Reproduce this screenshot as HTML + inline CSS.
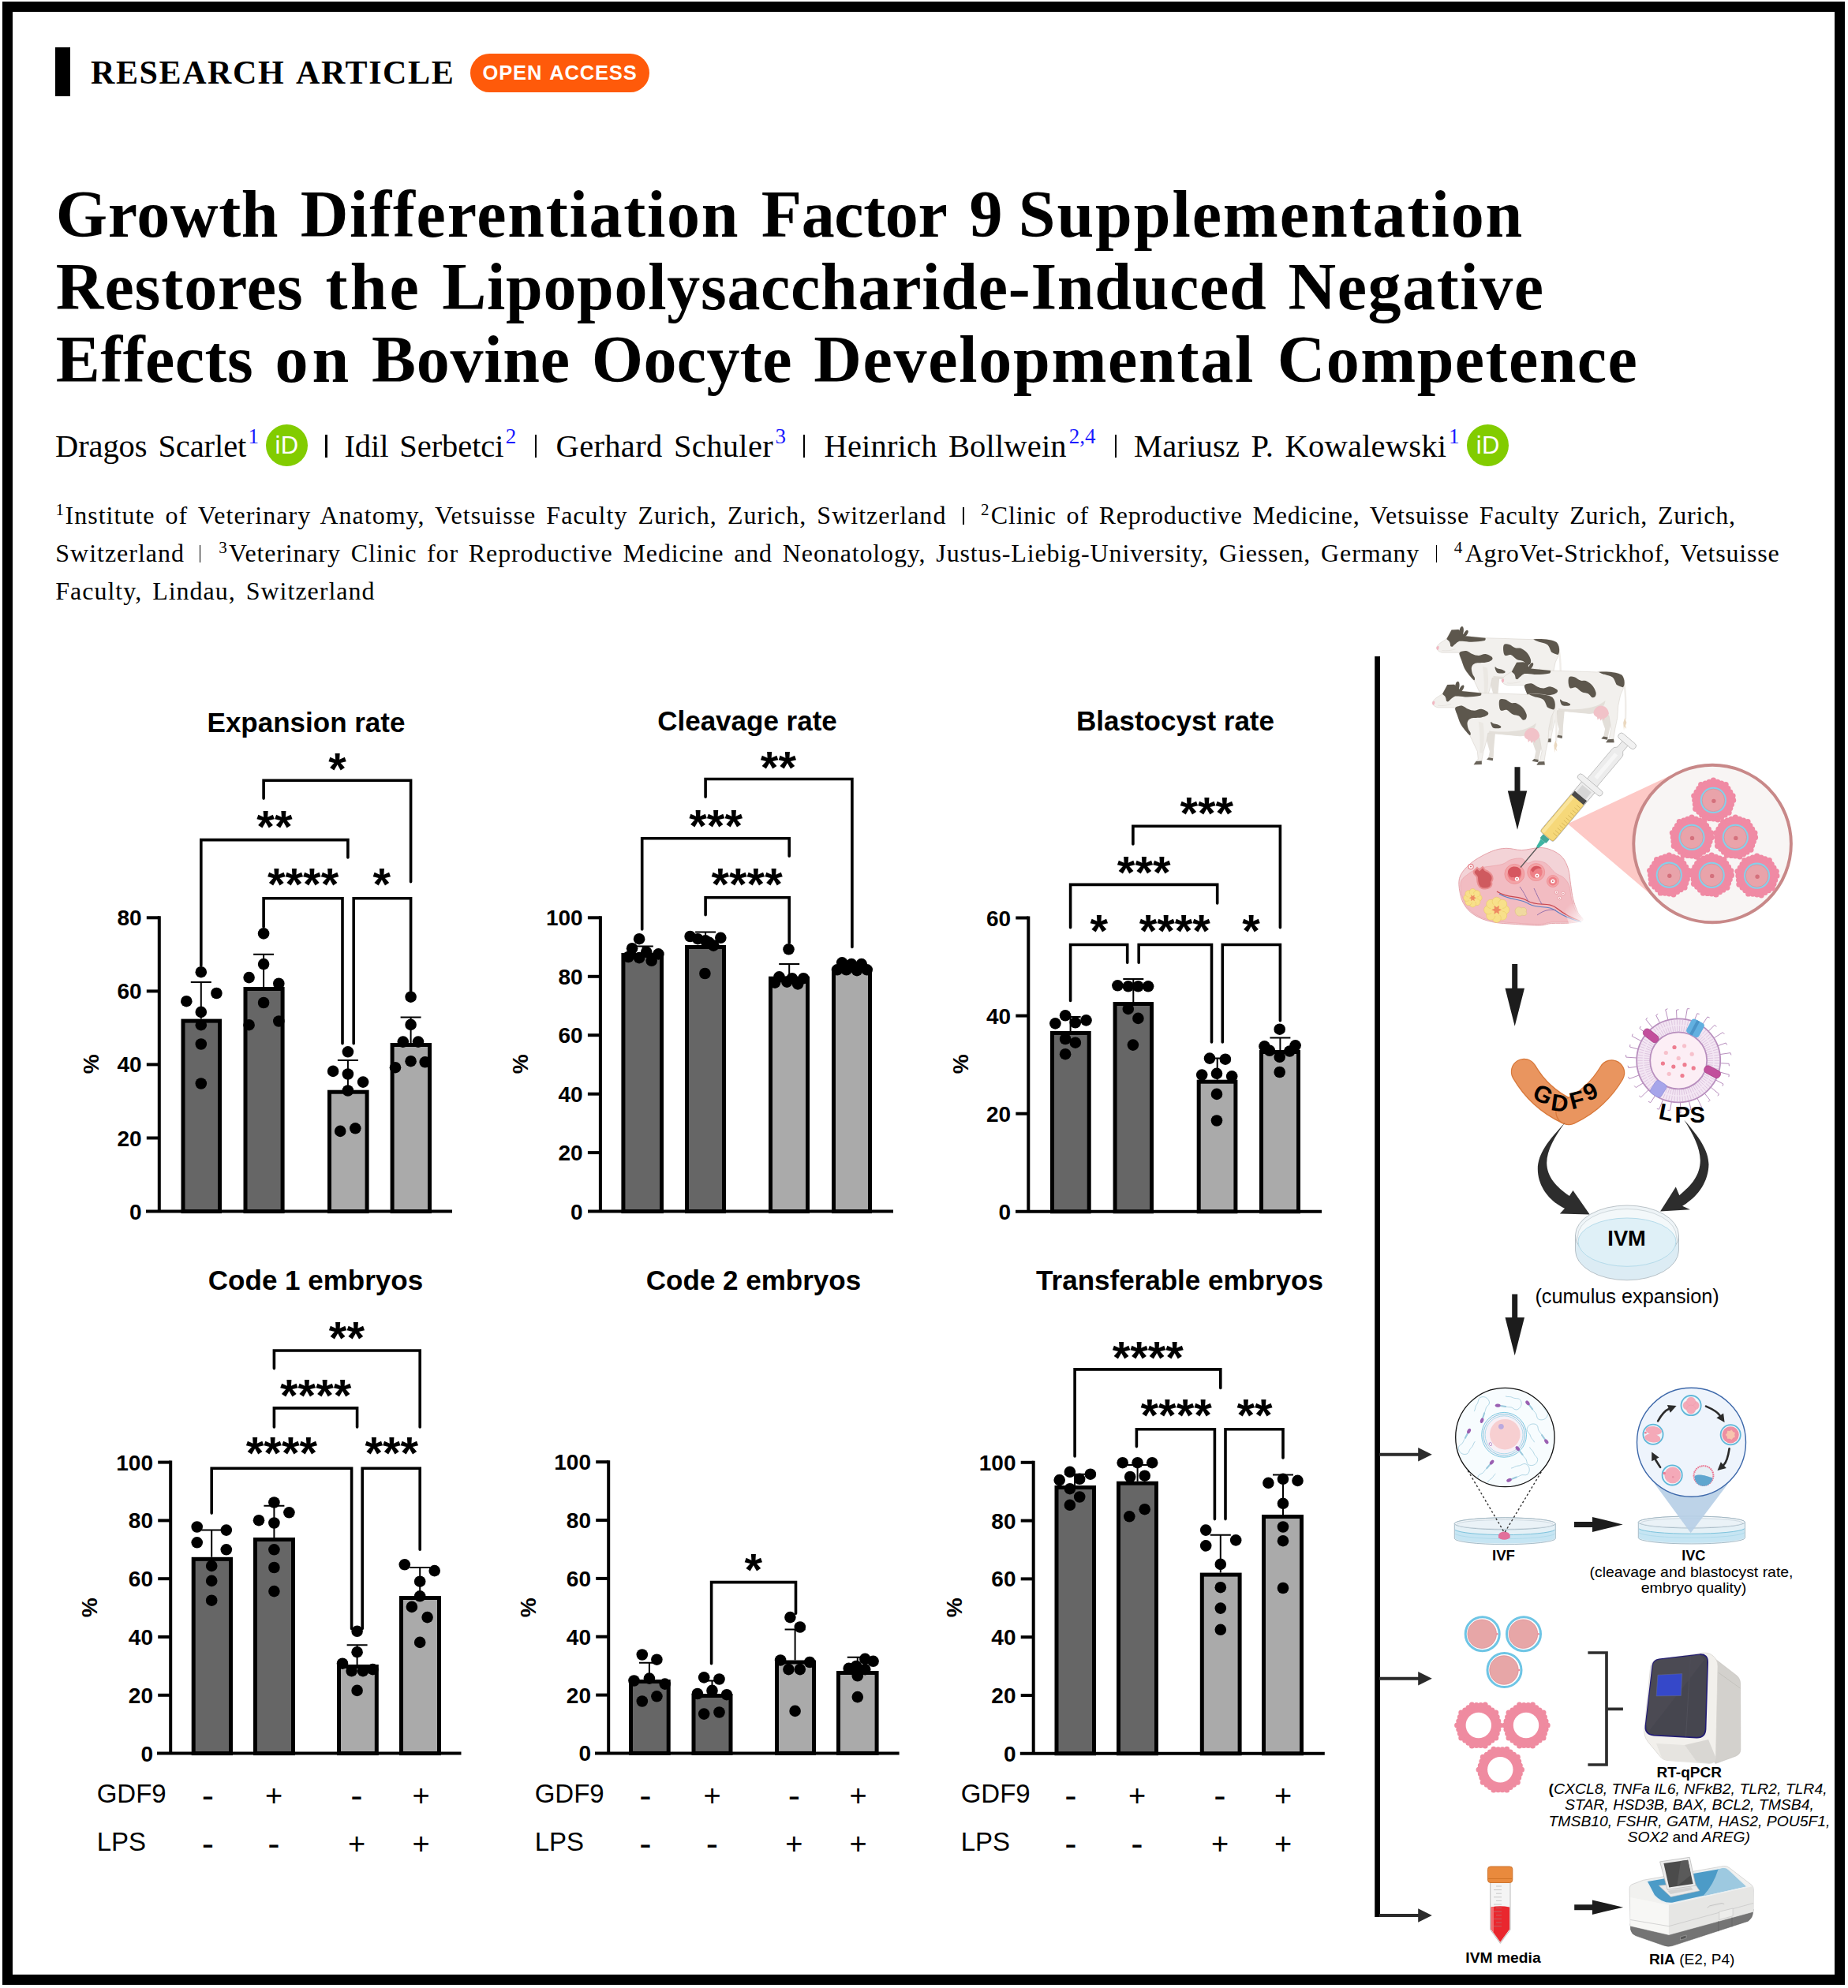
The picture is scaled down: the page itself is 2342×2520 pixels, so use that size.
<!DOCTYPE html>
<html lang="en"><head><meta charset="utf-8"><title>Growth Differentiation Factor 9 Supplementation Restores the Lipopolysaccharide-Induced Negative Effects on Bovine Oocyte Developmental Competence</title>
<style>
html,body{margin:0;padding:0;background:#fff;}
body{width:2342px;height:2520px;position:relative;overflow:hidden;color:#000;}
.frame{position:absolute;left:3px;top:2px;width:2309px;height:2488px;border:13px solid #000;box-sizing:content-box;}
.t{position:absolute;white-space:nowrap;line-height:normal;}
.bar{position:absolute;left:69.5px;top:59.5px;width:19.5px;height:62px;background:#000;}
.badge{position:absolute;left:596px;top:68px;width:226.7px;height:49px;border-radius:25px;background:#ff5a0a;}
.orcid{position:absolute;width:53px;height:53px;border-radius:50%;background:#82cc00;color:#fff;font:31px/53px 'Liberation Sans', sans-serif;text-align:center;letter-spacing:0.5px;}
.sep{position:absolute;background:#000;}
svg{position:absolute;left:0;top:0;}
.tk{font:bold 28px 'Liberation Sans', sans-serif;}
.ct{font:bold 35px 'Liberation Sans', sans-serif;}
.st{font:bold 58px 'Liberation Sans', sans-serif;}
.lb{font:33px 'Liberation Sans', sans-serif;}
.d{font-family:'Liberation Sans', sans-serif;}
</style></head><body>
<div class="frame"></div>
<div class="bar"></div>
<div class="badge"></div>
<div class="orcid" style="left:337.1px;top:537.9px">iD</div>
<div class="orcid" style="left:1859.3px;top:538.3px">iD</div>
<span class="t" style="left:115.0px;top:68.4px;font-family:'Liberation Serif', serif;font-weight:bold;font-size:42px;letter-spacing:1.615px;word-spacing:4px;">RESEARCH ARTICLE</span>
<span class="t" style="left:70.8px;top:223.1px;font-family:'Liberation Serif', serif;font-weight:bold;font-size:84px;letter-spacing:0.646px;word-spacing:0px;">Growth</span>
<span class="t" style="left:380.7px;top:223.1px;font-family:'Liberation Serif', serif;font-weight:bold;font-size:84px;letter-spacing:1.747px;word-spacing:0px;">Differentiation</span>
<span class="t" style="left:964.7px;top:223.1px;font-family:'Liberation Serif', serif;font-weight:bold;font-size:84px;letter-spacing:-0.372px;word-spacing:0px;">Factor</span>
<span class="t" style="left:1228.4px;top:223.1px;font-family:'Liberation Serif', serif;font-weight:bold;font-size:84px;letter-spacing:0.000px;word-spacing:0px;">9</span>
<span class="t" style="left:1290.8px;top:223.1px;font-family:'Liberation Serif', serif;font-weight:bold;font-size:84px;letter-spacing:1.931px;word-spacing:0px;">Supplementation</span>
<span class="t" style="left:70.8px;top:314.8px;font-family:'Liberation Serif', serif;font-weight:bold;font-size:84px;letter-spacing:0.934px;word-spacing:0px;">Restores</span>
<span class="t" style="left:412.5px;top:314.8px;font-family:'Liberation Serif', serif;font-weight:bold;font-size:84px;letter-spacing:3.158px;word-spacing:0px;">the</span>
<span class="t" style="left:560.2px;top:314.8px;font-family:'Liberation Serif', serif;font-weight:bold;font-size:84px;letter-spacing:0.711px;word-spacing:0px;">Lipopolysaccharide-Induced</span>
<span class="t" style="left:1632.5px;top:314.8px;font-family:'Liberation Serif', serif;font-weight:bold;font-size:84px;letter-spacing:1.565px;word-spacing:0px;">Negative</span>
<span class="t" style="left:70.8px;top:407.0px;font-family:'Liberation Serif', serif;font-weight:bold;font-size:84px;letter-spacing:0.449px;word-spacing:0px;">Effects</span>
<span class="t" style="left:348.4px;top:407.0px;font-family:'Liberation Serif', serif;font-weight:bold;font-size:84px;letter-spacing:5.081px;word-spacing:0px;">on</span>
<span class="t" style="left:471.0px;top:407.0px;font-family:'Liberation Serif', serif;font-weight:bold;font-size:84px;letter-spacing:0.725px;word-spacing:0px;">Bovine</span>
<span class="t" style="left:749.7px;top:407.0px;font-family:'Liberation Serif', serif;font-weight:bold;font-size:84px;letter-spacing:0.382px;word-spacing:0px;">Oocyte</span>
<span class="t" style="left:1031.2px;top:407.0px;font-family:'Liberation Serif', serif;font-weight:bold;font-size:84px;letter-spacing:1.710px;word-spacing:0px;">Developmental</span>
<span class="t" style="left:1618.7px;top:407.0px;font-family:'Liberation Serif', serif;font-weight:bold;font-size:84px;letter-spacing:1.446px;word-spacing:0px;">Competence</span>
<span class="t" style="left:70.0px;top:541.7px;font-family:'Liberation Serif', serif;font-size:40.5px;letter-spacing:-0.096px;word-spacing:4px;">Dragos Scarlet</span>
<span class="t" style="left:436.4px;top:541.7px;font-family:'Liberation Serif', serif;font-size:40.5px;letter-spacing:-0.080px;word-spacing:4px;">Idil Serbetci</span>
<span class="t" style="left:704.6px;top:541.7px;font-family:'Liberation Serif', serif;font-size:40.5px;letter-spacing:0.327px;word-spacing:4px;">Gerhard Schuler</span>
<span class="t" style="left:1044.5px;top:541.7px;font-family:'Liberation Serif', serif;font-size:40.5px;letter-spacing:0.174px;word-spacing:4px;">Heinrich Bollwein</span>
<span class="t" style="left:1437.0px;top:541.7px;font-family:'Liberation Serif', serif;font-size:40.5px;letter-spacing:0.220px;word-spacing:4px;">Mariusz P. Kowalewski</span>
<span class="t" style="left:314.6px;top:537.7px;font-family:'Liberation Serif', serif;font-size:27px;letter-spacing:0.000px;word-spacing:0px;color:#1a1aff;">1</span>
<span class="t" style="left:640.8px;top:537.7px;font-family:'Liberation Serif', serif;font-size:27px;letter-spacing:0.000px;word-spacing:0px;color:#1a1aff;">2</span>
<span class="t" style="left:982.4px;top:537.7px;font-family:'Liberation Serif', serif;font-size:27px;letter-spacing:0.000px;word-spacing:0px;color:#1a1aff;">3</span>
<span class="t" style="left:1354.8px;top:537.7px;font-family:'Liberation Serif', serif;font-size:27px;letter-spacing:0.000px;word-spacing:0px;color:#1a1aff;">2,4</span>
<span class="t" style="left:1836.0px;top:537.7px;font-family:'Liberation Serif', serif;font-size:27px;letter-spacing:0.000px;word-spacing:0px;color:#1a1aff;">1</span>
<span class="t" style="left:82.5px;top:634.8px;font-family:'Liberation Serif', serif;font-size:32px;letter-spacing:1.019px;word-spacing:4px;">Institute of Veterinary Anatomy, Vetsuisse Faculty Zurich, Zurich, Switzerland</span>
<span class="t" style="left:1255.8px;top:634.8px;font-family:'Liberation Serif', serif;font-size:32px;letter-spacing:0.800px;word-spacing:4px;">Clinic of Reproductive Medicine, Vetsuisse Faculty Zurich, Zurich,</span>
<span class="t" style="left:70.3px;top:682.7px;font-family:'Liberation Serif', serif;font-size:32px;letter-spacing:0.986px;word-spacing:4px;">Switzerland</span>
<span class="t" style="left:290.0px;top:682.7px;font-family:'Liberation Serif', serif;font-size:32px;letter-spacing:0.867px;word-spacing:4px;">Veterinary Clinic for Reproductive Medicine and Neonatology, Justus-Liebig-University, Giessen, Germany</span>
<span class="t" style="left:1856.7px;top:682.7px;font-family:'Liberation Serif', serif;font-size:32px;letter-spacing:0.785px;word-spacing:4px;">AgroVet-Strickhof, Vetsuisse</span>
<span class="t" style="left:70.3px;top:730.8px;font-family:'Liberation Serif', serif;font-size:32px;letter-spacing:0.993px;word-spacing:4px;">Faculty, Lindau, Switzerland</span>
<span class="t" style="left:70.5px;top:633.6px;font-family:'Liberation Serif', serif;font-size:21px;letter-spacing:0.000px;word-spacing:0px;">1</span>
<span class="t" style="left:1242.9px;top:633.6px;font-family:'Liberation Serif', serif;font-size:21px;letter-spacing:0.000px;word-spacing:0px;">2</span>
<span class="t" style="left:277.3px;top:681.5px;font-family:'Liberation Serif', serif;font-size:21px;letter-spacing:0.000px;word-spacing:0px;">3</span>
<span class="t" style="left:1842.7px;top:681.5px;font-family:'Liberation Serif', serif;font-size:21px;letter-spacing:0.000px;word-spacing:0px;">4</span>
<span class="t" style="left:611.5px;top:78.2px;font-family:'Liberation Sans', sans-serif;font-weight:bold;color:#fff;font-size:25.5px;letter-spacing:0.851px;word-spacing:2px;">OPEN ACCESS</span>
<div class="sep" style="left:412.3px;top:551.2px;width:2.3px;height:28.5px"></div>
<div class="sep" style="left:677.6px;top:551.2px;width:2.3px;height:28.5px"></div>
<div class="sep" style="left:1017.6px;top:551.2px;width:2.3px;height:28.5px"></div>
<div class="sep" style="left:1412.6px;top:551.2px;width:2.3px;height:28.5px"></div>
<div class="sep" style="left:1220.1px;top:643.3px;width:1.8px;height:21.5px"></div>
<div class="sep" style="left:252.6px;top:691.2px;width:1.8px;height:21.5px"></div>
<div class="sep" style="left:1819.7px;top:691.2px;width:1.8px;height:21.5px"></div>
<svg width="2342" height="2520" viewBox="0 0 2342 2520">
<rect x="232.0" y="1294.1" width="46.5" height="241.5" fill="#666666" stroke="#000" stroke-width="5"/>
<rect x="311.0" y="1253.5" width="47.1" height="282.1" fill="#666666" stroke="#000" stroke-width="5"/>
<rect x="417.5" y="1384.2" width="47.6" height="151.4" fill="#aaaaaa" stroke="#000" stroke-width="5"/>
<rect x="497.1" y="1324.5" width="47.4" height="211.1" fill="#aaaaaa" stroke="#000" stroke-width="5"/>
<path d="M254.8 1291.6V1244.9M241.8 1244.9H267.8" stroke="#000" stroke-width="2" fill="none"/>
<path d="M334.1 1251.0V1209.8M321.1 1209.8H347.1" stroke="#000" stroke-width="2" fill="none"/>
<path d="M440.9 1381.7V1344.1M427.9 1344.1H453.9" stroke="#000" stroke-width="2" fill="none"/>
<path d="M520.6 1322.0V1289.5M507.6 1289.5H533.6" stroke="#000" stroke-width="2" fill="none"/>
<path d="M201.8 1161.3V1535.6M185.0 1535.6H573.0" stroke="#000" stroke-width="4" fill="none"/>
<text x="179.6" y="1545.6" text-anchor="end" class="tk">0</text>
<path d="M185.8 1442.5H201.8" stroke="#000" stroke-width="4"/>
<text x="179.6" y="1452.5" text-anchor="end" class="tk">20</text>
<path d="M185.8 1349.4H201.8" stroke="#000" stroke-width="4"/>
<text x="179.6" y="1359.4" text-anchor="end" class="tk">40</text>
<path d="M185.8 1256.4H201.8" stroke="#000" stroke-width="4"/>
<text x="179.6" y="1266.4" text-anchor="end" class="tk">60</text>
<path d="M185.8 1163.3H201.8" stroke="#000" stroke-width="4"/>
<text x="179.6" y="1173.3" text-anchor="end" class="tk">80</text>
<circle cx="254.8" cy="1232.2" r="7.3"/>
<circle cx="274.4" cy="1259.0" r="7.3"/>
<circle cx="236.3" cy="1269.2" r="7.3"/>
<circle cx="254.8" cy="1282.9" r="7.3"/>
<circle cx="254.8" cy="1299.2" r="7.3"/>
<circle cx="254.8" cy="1323.5" r="7.3"/>
<circle cx="254.8" cy="1373.5" r="7.3"/>
<circle cx="334.1" cy="1183.4" r="7.3"/>
<circle cx="334.1" cy="1222.1" r="7.3"/>
<circle cx="315.6" cy="1239.1" r="7.3"/>
<circle cx="353.3" cy="1246.7" r="7.3"/>
<circle cx="334.1" cy="1271.0" r="7.3"/>
<circle cx="315.6" cy="1299.2" r="7.3"/>
<circle cx="353.3" cy="1294.5" r="7.3"/>
<circle cx="440.9" cy="1333.3" r="7.3"/>
<circle cx="422.1" cy="1357.9" r="7.3"/>
<circle cx="440.9" cy="1361.5" r="7.3"/>
<circle cx="460.1" cy="1371.6" r="7.3"/>
<circle cx="440.9" cy="1382.5" r="7.3"/>
<circle cx="431.2" cy="1433.9" r="7.3"/>
<circle cx="450.3" cy="1430.3" r="7.3"/>
<circle cx="520.6" cy="1263.7" r="7.3"/>
<circle cx="520.6" cy="1298.9" r="7.3"/>
<circle cx="510.8" cy="1320.6" r="7.3"/>
<circle cx="530.0" cy="1320.6" r="7.3"/>
<circle cx="501.0" cy="1353.2" r="7.3"/>
<circle cx="520.6" cy="1345.2" r="7.3"/>
<circle cx="538.7" cy="1346.3" r="7.3"/>
<path d="M334.1 1012.1V989.3H520.6V1117.8" stroke="#000" stroke-width="3.6" fill="none" stroke-linecap="round" stroke-linejoin="miter"/>
<text x="427.5" y="994.6" text-anchor="middle" class="st">*</text>
<path d="M254.8 1223.9V1064.6H440.9V1087.0" stroke="#000" stroke-width="3.6" fill="none" stroke-linecap="round" stroke-linejoin="miter"/>
<text x="347.9" y="1067.8" text-anchor="middle" class="st">**</text>
<path d="M334.1 1175.0V1138.8H434.0V1322.8" stroke="#000" stroke-width="3.6" fill="none" stroke-linecap="round" stroke-linejoin="miter"/>
<text x="384.1" y="1141.3" text-anchor="middle" class="st">****</text>
<path d="M448.2 1322.8V1138.8H520.6V1256.5" stroke="#000" stroke-width="3.6" fill="none" stroke-linecap="round" stroke-linejoin="miter"/>
<text x="483.7" y="1141.3" text-anchor="middle" class="st">*</text>
<text x="388.0" y="927.5" text-anchor="middle" class="ct">Expansion rate</text>
<text transform="translate(116.1 1348.8) rotate(-90)" text-anchor="middle" class="tk" y="9">%</text>
<rect x="789.9" y="1210.5" width="48.6" height="325.1" fill="#666666" stroke="#000" stroke-width="5"/>
<rect x="870.5" y="1200.5" width="47.0" height="335.1" fill="#666666" stroke="#000" stroke-width="5"/>
<rect x="976.5" y="1240.2" width="47.0" height="295.4" fill="#aaaaaa" stroke="#000" stroke-width="5"/>
<rect x="1056.5" y="1230.0" width="46.0" height="305.6" fill="#aaaaaa" stroke="#000" stroke-width="5"/>
<path d="M814.8 1208.0V1199.6M801.8 1199.6H827.8" stroke="#000" stroke-width="2" fill="none"/>
<path d="M894.1 1198.0V1181.5M881.1 1181.5H907.1" stroke="#000" stroke-width="2" fill="none"/>
<path d="M1000.2 1237.7V1222.1M987.2 1222.1H1013.2" stroke="#000" stroke-width="2" fill="none"/>
<path d="M1079.9 1227.5V1223.9M1066.9 1223.9H1092.9" stroke="#000" stroke-width="2" fill="none"/>
<path d="M760.9 1161.3V1535.6M745.0 1535.6H1132.0" stroke="#000" stroke-width="4" fill="none"/>
<text x="738.7" y="1545.6" text-anchor="end" class="tk">0</text>
<path d="M744.9 1461.1H760.9" stroke="#000" stroke-width="4"/>
<text x="738.7" y="1471.1" text-anchor="end" class="tk">20</text>
<path d="M744.9 1386.7H760.9" stroke="#000" stroke-width="4"/>
<text x="738.7" y="1396.7" text-anchor="end" class="tk">40</text>
<path d="M744.9 1312.2H760.9" stroke="#000" stroke-width="4"/>
<text x="738.7" y="1322.2" text-anchor="end" class="tk">60</text>
<path d="M744.9 1237.8H760.9" stroke="#000" stroke-width="4"/>
<text x="738.7" y="1247.8" text-anchor="end" class="tk">80</text>
<path d="M744.9 1163.3H760.9" stroke="#000" stroke-width="4"/>
<text x="738.7" y="1173.3" text-anchor="end" class="tk">100</text>
<circle cx="810.1" cy="1190.2" r="7.3"/>
<circle cx="801.1" cy="1202.2" r="7.3"/>
<circle cx="819.2" cy="1206.9" r="7.3"/>
<circle cx="796.3" cy="1213.0" r="7.3"/>
<circle cx="810.1" cy="1214.1" r="7.3"/>
<circle cx="825.7" cy="1217.8" r="7.3"/>
<circle cx="834.4" cy="1209.4" r="7.3"/>
<circle cx="874.6" cy="1187.0" r="7.3"/>
<circle cx="884.3" cy="1190.2" r="7.3"/>
<circle cx="894.1" cy="1192.4" r="7.3"/>
<circle cx="913.3" cy="1188.8" r="7.3"/>
<circle cx="898.8" cy="1194.9" r="7.3"/>
<circle cx="904.2" cy="1198.6" r="7.3"/>
<circle cx="893.4" cy="1234.0" r="7.3"/>
<circle cx="999.5" cy="1203.3" r="7.3"/>
<circle cx="987.5" cy="1238.4" r="7.3"/>
<circle cx="982.1" cy="1245.6" r="7.3"/>
<circle cx="997.3" cy="1244.6" r="7.3"/>
<circle cx="1011.1" cy="1247.4" r="7.3"/>
<circle cx="1018.3" cy="1240.2" r="7.3"/>
<circle cx="1003.8" cy="1240.2" r="7.3"/>
<circle cx="1067.2" cy="1220.3" r="7.3"/>
<circle cx="1079.1" cy="1222.1" r="7.3"/>
<circle cx="1091.8" cy="1222.1" r="7.3"/>
<circle cx="1061.0" cy="1229.3" r="7.3"/>
<circle cx="1072.6" cy="1229.3" r="7.3"/>
<circle cx="1086.0" cy="1230.1" r="7.3"/>
<circle cx="1098.7" cy="1229.3" r="7.3"/>
<path d="M894.1 1010.3V987.5H1079.9V1200.4" stroke="#000" stroke-width="3.6" fill="none" stroke-linecap="round" stroke-linejoin="miter"/>
<text x="986.4" y="992.8" text-anchor="middle" class="st">**</text>
<path d="M813.7 1177.9V1062.8H1000.2V1085.2" stroke="#000" stroke-width="3.6" fill="none" stroke-linecap="round" stroke-linejoin="miter"/>
<text x="907.1" y="1067.0" text-anchor="middle" class="st">***</text>
<path d="M894.1 1159.8V1137.7H1000.2V1194.9" stroke="#000" stroke-width="3.6" fill="none" stroke-linecap="round" stroke-linejoin="miter"/>
<text x="946.6" y="1141.3" text-anchor="middle" class="st">****</text>
<text x="947.0" y="925.5" text-anchor="middle" class="ct">Cleavage rate</text>
<text transform="translate(659.8 1348.8) rotate(-90)" text-anchor="middle" class="tk" y="9">%</text>
<rect x="1333.5" y="1309.5" width="46.7" height="226.3" fill="#666666" stroke="#000" stroke-width="5"/>
<rect x="1413.1" y="1272.5" width="46.4" height="263.3" fill="#666666" stroke="#000" stroke-width="5"/>
<rect x="1519.2" y="1371.2" width="46.7" height="164.6" fill="#aaaaaa" stroke="#000" stroke-width="5"/>
<rect x="1598.5" y="1333.5" width="47.0" height="202.3" fill="#aaaaaa" stroke="#000" stroke-width="5"/>
<path d="M1356.6 1307.0V1289.1M1343.6 1289.1H1369.6" stroke="#000" stroke-width="2" fill="none"/>
<path d="M1436.3 1270.0V1240.9M1423.3 1240.9H1449.3" stroke="#000" stroke-width="2" fill="none"/>
<path d="M1542.7 1368.7V1341.6M1529.7 1341.6H1555.7" stroke="#000" stroke-width="2" fill="none"/>
<path d="M1622.4 1331.0V1315.5M1609.4 1315.5H1635.4" stroke="#000" stroke-width="2" fill="none"/>
<path d="M1303.3 1161.5V1535.8M1287.0 1535.8H1675.0" stroke="#000" stroke-width="4" fill="none"/>
<text x="1281.1" y="1545.8" text-anchor="end" class="tk">0</text>
<path d="M1287.3 1411.7H1303.3" stroke="#000" stroke-width="4"/>
<text x="1281.1" y="1421.7" text-anchor="end" class="tk">20</text>
<path d="M1287.3 1287.6H1303.3" stroke="#000" stroke-width="4"/>
<text x="1281.1" y="1297.6" text-anchor="end" class="tk">40</text>
<path d="M1287.3 1163.5H1303.3" stroke="#000" stroke-width="4"/>
<text x="1281.1" y="1173.5" text-anchor="end" class="tk">60</text>
<circle cx="1350.1" cy="1287.3" r="7.3"/>
<circle cx="1337.4" cy="1297.4" r="7.3"/>
<circle cx="1362.8" cy="1296.3" r="7.3"/>
<circle cx="1376.5" cy="1293.4" r="7.3"/>
<circle cx="1350.1" cy="1317.0" r="7.3"/>
<circle cx="1362.8" cy="1321.7" r="7.3"/>
<circle cx="1350.1" cy="1336.2" r="7.3"/>
<circle cx="1416.4" cy="1249.3" r="7.3"/>
<circle cx="1429.8" cy="1250.3" r="7.3"/>
<circle cx="1442.4" cy="1250.3" r="7.3"/>
<circle cx="1455.1" cy="1250.3" r="7.3"/>
<circle cx="1429.8" cy="1278.9" r="7.3"/>
<circle cx="1442.4" cy="1290.9" r="7.3"/>
<circle cx="1435.9" cy="1324.6" r="7.3"/>
<circle cx="1533.0" cy="1341.6" r="7.3"/>
<circle cx="1552.9" cy="1342.7" r="7.3"/>
<circle cx="1523.2" cy="1362.6" r="7.3"/>
<circle cx="1542.0" cy="1360.8" r="7.3"/>
<circle cx="1561.2" cy="1364.4" r="7.3"/>
<circle cx="1542.0" cy="1386.9" r="7.3"/>
<circle cx="1542.0" cy="1420.5" r="7.3"/>
<circle cx="1621.7" cy="1304.7" r="7.3"/>
<circle cx="1602.5" cy="1326.4" r="7.3"/>
<circle cx="1641.6" cy="1325.3" r="7.3"/>
<circle cx="1609.0" cy="1331.8" r="7.3"/>
<circle cx="1621.7" cy="1339.8" r="7.3"/>
<circle cx="1634.4" cy="1332.5" r="7.3"/>
<circle cx="1621.7" cy="1359.0" r="7.3"/>
<path d="M1435.9 1070.0V1047.2H1622.4V1175.8" stroke="#000" stroke-width="3.6" fill="none" stroke-linecap="round" stroke-linejoin="miter"/>
<text x="1529.3" y="1050.7" text-anchor="middle" class="st">***</text>
<path d="M1356.6 1175.8V1121.4H1542.7V1145.0" stroke="#000" stroke-width="3.6" fill="none" stroke-linecap="round" stroke-linejoin="miter"/>
<text x="1449.7" y="1125.7" text-anchor="middle" class="st">***</text>
<path d="M1356.6 1268.4V1197.5H1428.7V1220.3" stroke="#000" stroke-width="3.6" fill="none" stroke-linecap="round" stroke-linejoin="miter"/>
<text x="1392.8" y="1199.9" text-anchor="middle" class="st">*</text>
<path d="M1443.2 1220.3V1197.5H1535.5V1321.0" stroke="#000" stroke-width="3.6" fill="none" stroke-linecap="round" stroke-linejoin="miter"/>
<text x="1488.8" y="1199.9" text-anchor="middle" class="st">****</text>
<path d="M1549.3 1321.0V1197.5H1622.4V1293.8" stroke="#000" stroke-width="3.6" fill="none" stroke-linecap="round" stroke-linejoin="miter"/>
<text x="1585.5" y="1199.9" text-anchor="middle" class="st">*</text>
<text x="1489.5" y="925.5" text-anchor="middle" class="ct">Blastocyst rate</text>
<text transform="translate(1217.9 1348.8) rotate(-90)" text-anchor="middle" class="tk" y="9">%</text>
<rect x="245.2" y="1976.3" width="47.3" height="246.3" fill="#666666" stroke="#000" stroke-width="5"/>
<rect x="323.5" y="1951.5" width="48.0" height="271.1" fill="#666666" stroke="#000" stroke-width="5"/>
<rect x="429.5" y="2112.5" width="47.8" height="110.1" fill="#aaaaaa" stroke="#000" stroke-width="5"/>
<rect x="508.5" y="2025.5" width="48.0" height="197.1" fill="#aaaaaa" stroke="#000" stroke-width="5"/>
<path d="M268.2 1973.8V1939.6M255.2 1939.6H281.2" stroke="#000" stroke-width="2" fill="none"/>
<path d="M347.4 1949.0V1908.7M334.4 1908.7H360.4" stroke="#000" stroke-width="2" fill="none"/>
<path d="M452.6 2110.0V2085.2M439.6 2085.2H465.6" stroke="#000" stroke-width="2" fill="none"/>
<path d="M532.2 2023.0V1987.0M519.2 1987.0H545.2" stroke="#000" stroke-width="2" fill="none"/>
<path d="M216.2 1851.6V2222.6M199.0 2222.6H584.5" stroke="#000" stroke-width="4" fill="none"/>
<text x="194.0" y="2232.6" text-anchor="end" class="tk">0</text>
<path d="M200.2 2148.8H216.2" stroke="#000" stroke-width="4"/>
<text x="194.0" y="2158.8" text-anchor="end" class="tk">20</text>
<path d="M200.2 2075.0H216.2" stroke="#000" stroke-width="4"/>
<text x="194.0" y="2085.0" text-anchor="end" class="tk">40</text>
<path d="M200.2 2001.2H216.2" stroke="#000" stroke-width="4"/>
<text x="194.0" y="2011.2" text-anchor="end" class="tk">60</text>
<path d="M200.2 1927.4H216.2" stroke="#000" stroke-width="4"/>
<text x="194.0" y="1937.4" text-anchor="end" class="tk">80</text>
<path d="M200.2 1853.6H216.2" stroke="#000" stroke-width="4"/>
<text x="194.0" y="1863.6" text-anchor="end" class="tk">100</text>
<circle cx="249.7" cy="1935.5" r="7.3"/>
<circle cx="286.8" cy="1939.6" r="7.3"/>
<circle cx="249.7" cy="1955.3" r="7.3"/>
<circle cx="286.8" cy="1964.3" r="7.3"/>
<circle cx="268.2" cy="1984.9" r="7.3"/>
<circle cx="268.2" cy="2003.9" r="7.3"/>
<circle cx="268.2" cy="2028.7" r="7.3"/>
<circle cx="347.4" cy="1904.5" r="7.3"/>
<circle cx="366.4" cy="1917.3" r="7.3"/>
<circle cx="328.0" cy="1927.2" r="7.3"/>
<circle cx="347.4" cy="1930.5" r="7.3"/>
<circle cx="347.4" cy="1964.3" r="7.3"/>
<circle cx="347.4" cy="1987.0" r="7.3"/>
<circle cx="347.4" cy="2017.1" r="7.3"/>
<circle cx="452.6" cy="2067.8" r="7.3"/>
<circle cx="452.6" cy="2094.2" r="7.3"/>
<circle cx="434.0" cy="2108.7" r="7.3"/>
<circle cx="445.6" cy="2118.1" r="7.3"/>
<circle cx="460.0" cy="2118.1" r="7.3"/>
<circle cx="472.4" cy="2116.1" r="7.3"/>
<circle cx="452.6" cy="2142.9" r="7.3"/>
<circle cx="512.8" cy="1983.3" r="7.3"/>
<circle cx="550.7" cy="1991.1" r="7.3"/>
<circle cx="532.2" cy="2004.7" r="7.3"/>
<circle cx="532.2" cy="2023.3" r="7.3"/>
<circle cx="521.9" cy="2036.9" r="7.3"/>
<circle cx="541.6" cy="2050.1" r="7.3"/>
<circle cx="532.2" cy="2081.9" r="7.3"/>
<path d="M347.4 1734.6V1712.0H532.2V1808.9" stroke="#000" stroke-width="3.6" fill="none" stroke-linecap="round" stroke-linejoin="miter"/>
<text x="439.4" y="1715.8" text-anchor="middle" class="st">**</text>
<path d="M347.4 1808.9V1784.9H452.6V1808.9" stroke="#000" stroke-width="3.6" fill="none" stroke-linecap="round" stroke-linejoin="miter"/>
<text x="400.2" y="1789.2" text-anchor="middle" class="st">****</text>
<path d="M268.2 1918.1V1861.2H445.6V2064.5" stroke="#000" stroke-width="3.6" fill="none" stroke-linecap="round" stroke-linejoin="miter"/>
<text x="356.9" y="1862.2" text-anchor="middle" class="st">****</text>
<path d="M459.2 2064.5V1861.2H532.2V1964.3" stroke="#000" stroke-width="3.6" fill="none" stroke-linecap="round" stroke-linejoin="miter"/>
<text x="496.3" y="1862.2" text-anchor="middle" class="st">***</text>
<text x="400.0" y="1634.5" text-anchor="middle" class="ct">Code 1 embryos</text>
<text transform="translate(114.4 2037.7) rotate(-90)" text-anchor="middle" class="tk" y="9">%</text>
<text x="122.7" y="2285.1" class="lb">GDF9</text>
<text x="122.7" y="2346.1" class="lb">LPS</text>
<text x="263.3" y="2291.6" text-anchor="middle" class="lb" style="font-size:46px">-</text>
<text x="347.0" y="2288.8" text-anchor="middle" class="lb" style="font-size:38px">+</text>
<text x="452.0" y="2291.6" text-anchor="middle" class="lb" style="font-size:46px">-</text>
<text x="533.6" y="2288.8" text-anchor="middle" class="lb" style="font-size:38px">+</text>
<text x="263.3" y="2352.6" text-anchor="middle" class="lb" style="font-size:46px">-</text>
<text x="347.0" y="2352.6" text-anchor="middle" class="lb" style="font-size:46px">-</text>
<text x="452.0" y="2349.8" text-anchor="middle" class="lb" style="font-size:38px">+</text>
<text x="533.6" y="2349.8" text-anchor="middle" class="lb" style="font-size:38px">+</text>
<rect x="799.5" y="2131.5" width="47.7" height="90.9" fill="#666666" stroke="#000" stroke-width="5"/>
<rect x="879.0" y="2149.5" width="47.0" height="72.9" fill="#666666" stroke="#000" stroke-width="5"/>
<rect x="984.5" y="2107.0" width="47.0" height="115.4" fill="#aaaaaa" stroke="#000" stroke-width="5"/>
<rect x="1062.5" y="2120.5" width="48.6" height="101.9" fill="#aaaaaa" stroke="#000" stroke-width="5"/>
<path d="M822.9 2129.0V2107.8M809.9 2107.8H835.9" stroke="#000" stroke-width="2" fill="none"/>
<path d="M902.5 2147.0V2130.5M889.5 2130.5H915.5" stroke="#000" stroke-width="2" fill="none"/>
<path d="M1007.6 2104.5V2065.4M994.6 2065.4H1020.6" stroke="#000" stroke-width="2" fill="none"/>
<path d="M1086.8 2118.0V2100.8M1073.8 2100.8H1099.8" stroke="#000" stroke-width="2" fill="none"/>
<path d="M771.2 1851.2V2222.4M754.0 2222.4H1139.6" stroke="#000" stroke-width="4" fill="none"/>
<text x="749.0" y="2232.4" text-anchor="end" class="tk">0</text>
<path d="M755.2 2148.6H771.2" stroke="#000" stroke-width="4"/>
<text x="749.0" y="2158.6" text-anchor="end" class="tk">20</text>
<path d="M755.2 2074.7H771.2" stroke="#000" stroke-width="4"/>
<text x="749.0" y="2084.7" text-anchor="end" class="tk">40</text>
<path d="M755.2 2000.9H771.2" stroke="#000" stroke-width="4"/>
<text x="749.0" y="2010.9" text-anchor="end" class="tk">60</text>
<path d="M755.2 1927.0H771.2" stroke="#000" stroke-width="4"/>
<text x="749.0" y="1937.0" text-anchor="end" class="tk">80</text>
<path d="M755.2 1853.2H771.2" stroke="#000" stroke-width="4"/>
<text x="749.0" y="1863.2" text-anchor="end" class="tk">100</text>
<circle cx="813.8" cy="2097.5" r="7.3"/>
<circle cx="832.4" cy="2103.7" r="7.3"/>
<circle cx="803.5" cy="2130.5" r="7.3"/>
<circle cx="822.9" cy="2127.6" r="7.3"/>
<circle cx="842.7" cy="2134.6" r="7.3"/>
<circle cx="813.8" cy="2156.5" r="7.3"/>
<circle cx="832.4" cy="2150.3" r="7.3"/>
<circle cx="892.2" cy="2126.4" r="7.3"/>
<circle cx="911.5" cy="2128.5" r="7.3"/>
<circle cx="883.9" cy="2147.0" r="7.3"/>
<circle cx="902.5" cy="2142.9" r="7.3"/>
<circle cx="921.0" cy="2148.2" r="7.3"/>
<circle cx="892.2" cy="2172.6" r="7.3"/>
<circle cx="911.5" cy="2170.5" r="7.3"/>
<circle cx="1001.4" cy="2050.1" r="7.3"/>
<circle cx="1013.8" cy="2062.5" r="7.3"/>
<circle cx="989.1" cy="2104.5" r="7.3"/>
<circle cx="1026.2" cy="2107.0" r="7.3"/>
<circle cx="999.4" cy="2116.1" r="7.3"/>
<circle cx="1013.8" cy="2116.1" r="7.3"/>
<circle cx="1007.6" cy="2168.9" r="7.3"/>
<circle cx="1096.3" cy="2102.9" r="7.3"/>
<circle cx="1106.6" cy="2105.8" r="7.3"/>
<circle cx="1085.2" cy="2112.0" r="7.3"/>
<circle cx="1075.7" cy="2114.8" r="7.3"/>
<circle cx="1096.3" cy="2116.1" r="7.3"/>
<circle cx="1086.8" cy="2124.3" r="7.3"/>
<circle cx="1086.8" cy="2151.1" r="7.3"/>
<path d="M901.6 2108.7V2005.6H1008.5V2045.2" stroke="#000" stroke-width="3.6" fill="none" stroke-linecap="round" stroke-linejoin="miter"/>
<text x="954.8" y="2009.9" text-anchor="middle" class="st">*</text>
<text x="955.0" y="1634.5" text-anchor="middle" class="ct">Code 2 embryos</text>
<text transform="translate(669.5 2037.7) rotate(-90)" text-anchor="middle" class="tk" y="9">%</text>
<text x="677.7" y="2285.1" class="lb">GDF9</text>
<text x="677.7" y="2346.1" class="lb">LPS</text>
<text x="818.0" y="2291.6" text-anchor="middle" class="lb" style="font-size:46px">-</text>
<text x="902.5" y="2288.8" text-anchor="middle" class="lb" style="font-size:38px">+</text>
<text x="1006.3" y="2291.6" text-anchor="middle" class="lb" style="font-size:46px">-</text>
<text x="1087.5" y="2288.8" text-anchor="middle" class="lb" style="font-size:38px">+</text>
<text x="818.0" y="2352.6" text-anchor="middle" class="lb" style="font-size:46px">-</text>
<text x="902.5" y="2352.6" text-anchor="middle" class="lb" style="font-size:46px">-</text>
<text x="1006.3" y="2349.8" text-anchor="middle" class="lb" style="font-size:38px">+</text>
<text x="1087.5" y="2349.8" text-anchor="middle" class="lb" style="font-size:38px">+</text>
<rect x="1339.0" y="1885.5" width="47.5" height="337.3" fill="#666666" stroke="#000" stroke-width="5"/>
<rect x="1417.5" y="1880.2" width="48.0" height="342.6" fill="#666666" stroke="#000" stroke-width="5"/>
<rect x="1523.3" y="1996.1" width="47.8" height="226.7" fill="#aaaaaa" stroke="#000" stroke-width="5"/>
<rect x="1601.5" y="1922.5" width="48.0" height="300.3" fill="#aaaaaa" stroke="#000" stroke-width="5"/>
<path d="M1362.1 1883.0V1868.7M1349.1 1868.7H1375.1" stroke="#000" stroke-width="2" fill="none"/>
<path d="M1441.6 1877.7V1857.1M1428.6 1857.1H1454.6" stroke="#000" stroke-width="2" fill="none"/>
<path d="M1546.8 1993.6V1945.8M1533.8 1945.8H1559.8" stroke="#000" stroke-width="2" fill="none"/>
<path d="M1626.0 1920.0V1869.5M1613.0 1869.5H1639.0" stroke="#000" stroke-width="2" fill="none"/>
<path d="M1309.7 1851.8V2222.8M1292.8 2222.8H1678.8" stroke="#000" stroke-width="4" fill="none"/>
<text x="1287.5" y="2232.8" text-anchor="end" class="tk">0</text>
<path d="M1293.7 2149.0H1309.7" stroke="#000" stroke-width="4"/>
<text x="1287.5" y="2159.0" text-anchor="end" class="tk">20</text>
<path d="M1293.7 2075.2H1309.7" stroke="#000" stroke-width="4"/>
<text x="1287.5" y="2085.2" text-anchor="end" class="tk">40</text>
<path d="M1293.7 2001.4H1309.7" stroke="#000" stroke-width="4"/>
<text x="1287.5" y="2011.4" text-anchor="end" class="tk">60</text>
<path d="M1293.7 1927.6H1309.7" stroke="#000" stroke-width="4"/>
<text x="1287.5" y="1937.6" text-anchor="end" class="tk">80</text>
<path d="M1293.7 1853.8H1309.7" stroke="#000" stroke-width="4"/>
<text x="1287.5" y="1863.8" text-anchor="end" class="tk">100</text>
<circle cx="1355.9" cy="1865.8" r="7.3"/>
<circle cx="1381.9" cy="1868.7" r="7.3"/>
<circle cx="1342.7" cy="1876.1" r="7.3"/>
<circle cx="1368.2" cy="1874.8" r="7.3"/>
<circle cx="1355.9" cy="1887.2" r="7.3"/>
<circle cx="1368.2" cy="1897.5" r="7.3"/>
<circle cx="1355.9" cy="1907.8" r="7.3"/>
<circle cx="1422.7" cy="1854.2" r="7.3"/>
<circle cx="1441.6" cy="1854.2" r="7.3"/>
<circle cx="1460.2" cy="1854.2" r="7.3"/>
<circle cx="1432.2" cy="1872.0" r="7.3"/>
<circle cx="1450.7" cy="1870.7" r="7.3"/>
<circle cx="1450.7" cy="1913.2" r="7.3"/>
<circle cx="1431.3" cy="1922.3" r="7.3"/>
<circle cx="1528.2" cy="1939.6" r="7.3"/>
<circle cx="1566.2" cy="1952.4" r="7.3"/>
<circle cx="1528.2" cy="1959.4" r="7.3"/>
<circle cx="1546.8" cy="1982.9" r="7.3"/>
<circle cx="1546.8" cy="2012.2" r="7.3"/>
<circle cx="1546.8" cy="2038.6" r="7.3"/>
<circle cx="1546.8" cy="2065.8" r="7.3"/>
<circle cx="1607.4" cy="1879.8" r="7.3"/>
<circle cx="1626.0" cy="1874.8" r="7.3"/>
<circle cx="1644.5" cy="1876.9" r="7.3"/>
<circle cx="1626.0" cy="1905.8" r="7.3"/>
<circle cx="1626.0" cy="1935.5" r="7.3"/>
<circle cx="1626.0" cy="1953.2" r="7.3"/>
<circle cx="1626.0" cy="2013.0" r="7.3"/>
<path d="M1362.1 1846.0V1735.9H1546.8V1759.4" stroke="#000" stroke-width="3.6" fill="none" stroke-linecap="round" stroke-linejoin="miter"/>
<text x="1454.8" y="1740.6" text-anchor="middle" class="st">****</text>
<path d="M1440.4 1833.6V1811.8H1539.4V1925.6" stroke="#000" stroke-width="3.6" fill="none" stroke-linecap="round" stroke-linejoin="miter"/>
<text x="1490.7" y="1814.0" text-anchor="middle" class="st">****</text>
<path d="M1553.0 1925.6V1811.8H1626.0V1848.0" stroke="#000" stroke-width="3.6" fill="none" stroke-linecap="round" stroke-linejoin="miter"/>
<text x="1590.1" y="1814.0" text-anchor="middle" class="st">**</text>
<text x="1495.0" y="1634.5" text-anchor="middle" class="ct">Transferable embryos</text>
<text transform="translate(1209.5 2037.7) rotate(-90)" text-anchor="middle" class="tk" y="9">%</text>
<text x="1217.7" y="2285.1" class="lb">GDF9</text>
<text x="1217.7" y="2346.1" class="lb">LPS</text>
<text x="1357.0" y="2291.6" text-anchor="middle" class="lb" style="font-size:46px">-</text>
<text x="1441.0" y="2288.8" text-anchor="middle" class="lb" style="font-size:38px">+</text>
<text x="1546.0" y="2291.6" text-anchor="middle" class="lb" style="font-size:46px">-</text>
<text x="1626.0" y="2288.8" text-anchor="middle" class="lb" style="font-size:38px">+</text>
<text x="1357.0" y="2352.6" text-anchor="middle" class="lb" style="font-size:46px">-</text>
<text x="1441.0" y="2352.6" text-anchor="middle" class="lb" style="font-size:46px">-</text>
<text x="1546.0" y="2349.8" text-anchor="middle" class="lb" style="font-size:38px">+</text>
<text x="1626.0" y="2349.8" text-anchor="middle" class="lb" style="font-size:38px">+</text>
<rect x="1742.2" y="832" width="6.8" height="1598" fill="#000"/>
<path d="M1748.0 1841.8H1797.2V1835.0L1814.8 1843.8L1797.2 1852.5V1845.8H1748.0Z" fill="#2b2b2b"/>
<path d="M1748.0 2125.7H1797.2V2118.9L1814.8 2127.7L1797.2 2136.4V2129.7H1748.0Z" fill="#2b2b2b"/>
<path d="M1748.0 2426.0H1797.2V2419.2L1814.8 2428.0L1797.2 2436.8V2430.0H1748.0Z" fill="#2b2b2b"/>
<g transform="translate(1820.5 794.7)"><path d="M154.5 27C158 40 157.5 60 157 76" stroke="#f0ede9" stroke-width="2.4" fill="none"/><path d="M156.2 74L158.4 80L157 84L158.2 88L155.6 85L155 90L154.2 80Z" fill="#ead8bf"/><path d="M122 62L131.1 88L129.2 97.7L126.3 100.5L134 101.6L135 97L138 84L142 62Z" fill="#e3dfd9"/><path d="M62 62L68.8 74.3L72.7 88L71 96L68.8 98.5L76.6 99.7L77.5 95L78 84L80 62Z" fill="#e3dfd9"/><path d="M126.3 100.3L129 97.5L134.5 98.5L134 101.8Z" fill="#6a645b"/><path d="M68.8 98.3L71.5 95.8L77 96.8L76.6 99.9Z" fill="#6a645b"/><path d="M-0.1 26.6C1 22 8 18 12.8 15.4L19.1 3.7L27.9 3.3L36.7 11.5L62 14L120.4 15.9C132 14.6 146 15.5 152.5 19.8C155 23 156 27 155.5 31.5C155 37 152 41 150.6 45.1L147.7 58.8L146.7 74.3L143.8 88L141.8 100.6L142.4 105L132.6 105L136 100.6L138.9 88L136 71.4C134 69 132 67 131 66L111.6 68.5L70.7 64.6L68.8 74.3L64.9 88L63 97.7L62.4 104.5L52.8 104.5L58.1 97.7L57.1 88L47.4 67.5C42 62 38 58 35.7 52.9L28.9 33.4L27 32.5L7.5 32.5C4 32 0.5 30 -0.1 26.6Z" fill="#f2f0ed" stroke="#d8d4cd" stroke-width="0.6" stroke-linejoin="round"/><path d="M72 65L111.6 68.5L122 67C128 62 131 57 131.5 52C122 60 110 62 96 63C86 63.5 78 63 72 62Z" fill="#e3dfd9"/><path d="M58.5 50C60 62 61 76 60 90L63.5 90C66 78 66 64 64.5 52Z" fill="#ebe8e3"/><path d="M116.5 67.5C117 62 121.4 58.8 126 58.4C131 58.6 135 62 136 68.5C135 72 132 74 130.5 74.3L130 77.5L128 74.5L125.4 77.5L124 74.2L121.6 76.5L121 73C118 72 116.5 70 116.5 67.5Z" fill="#f1c2c8"/><path d="M19.1 3.7L27.9 3.3L36.7 11.5L62 14C62.5 15.5 62 16.5 61 17.4C54 18.6 47 19.4 41.5 19C36 18.4 32 17.8 28.9 18.1C25 20 22.5 23 20.6 24.7C19.5 25.3 18.3 25 17.7 24.2C17.5 21.5 17 19.5 15.7 17.9C14.6 17 13.6 16.2 12.8 15.4Z" fill="#5d574d"/><ellipse cx="31.6" cy="5.5" rx="2.7" ry="6.2" transform="rotate(8 31.6 5.5)" fill="#5d574d"/><ellipse cx="37.2" cy="8.2" rx="2.1" ry="4.6" transform="rotate(30 37.2 8.2)" fill="#5d574d"/><path d="M28.9 33.4C29.1 31.4 31.4 31.3 33.0 30.8C34.6 30.3 36.5 29.9 38.6 30.5C40.7 31.1 43.0 33.4 45.4 34.4C47.8 35.4 50.4 36.4 53.2 36.4C56.0 36.4 59.1 34.1 62.0 34.4C64.8 34.7 69.0 37.0 70.3 38.3C71.6 39.6 71.2 41.1 69.8 42.2C68.4 43.3 65.4 44.5 62.0 45.1C58.6 45.8 52.2 45.1 49.3 46.1C46.4 47.1 45.1 48.9 44.5 51.0C43.9 53.1 44.8 56.5 45.4 58.8C46.0 61.1 48.1 63.1 48.4 64.6C48.7 66.0 48.6 68.2 47.4 67.5C46.2 66.8 43.0 62.9 41.0 60.5C39.0 58.1 37.2 55.8 35.7 52.9C34.2 50.0 33.1 46.2 32.0 43.0C30.9 39.8 28.7 35.4 28.9 33.4Z" fill="#5d574d"/><path d="M85.4 22.7C86.6 21.1 89.8 21.5 92.2 22.2C94.6 22.9 97.6 25.8 100.0 26.6C102.4 27.4 104.4 26.1 106.8 27.1C109.2 28.1 112.5 30.1 114.6 32.5C116.7 34.9 118.8 38.8 119.4 41.2C120.1 43.6 119.3 46.0 118.5 47.1C117.7 48.2 116.1 48.6 114.6 48.0C113.1 47.4 111.8 44.3 109.7 43.2C107.6 42.1 104.5 42.5 101.9 41.2C99.3 39.9 96.5 36.2 94.1 35.4C91.7 34.6 88.8 37.0 87.3 36.4C85.8 35.8 85.2 33.8 84.9 31.5C84.6 29.2 84.2 24.2 85.4 22.7Z" fill="#5d574d"/><path d="M122.7 15.8C130 14.8 146 15.5 152.5 19.8C155 23 156 27 155.5 31.5C155.3 33.5 154.6 34.5 153.8 35.2C152 35 148 33.6 145.5 31.8C143.6 27.6 143 25 140.9 22.7C138 20.6 136 20.2 133.3 19.7C129 18.8 126 17.8 122.7 15.8Z" fill="#5d574d"/><path d="M74.2 50.5C74.7 50.3 76.2 52.3 77.6 52.9C79.0 53.5 80.9 53.3 82.4 53.9C83.9 54.5 86.2 55.6 86.8 56.3C87.4 57.0 87.3 57.9 86.3 58.3C85.2 58.7 82.1 58.9 80.5 58.8C78.9 58.7 77.6 58.6 76.6 57.8C75.6 57.0 75.0 55.1 74.6 53.9C74.2 52.7 73.7 50.7 74.2 50.5Z" fill="#5d574d"/><path d="M55.5 100.5L62.6 100.2L62.6 104.7L52.4 104.8Z" fill="#6a645b"/><path d="M134.8 101.2L142 100.8L142.6 105.2L132.2 105.3Z" fill="#6a645b"/><path d="M-0.1 26.6C0.3 24.8 1.6 24 2.8 24.4C3.6 26 3 28.4 1.6 29.6C0.6 29 0 27.8 -0.1 26.6Z" fill="#f3b6c2"/><path d="M7 29.8C12 30.6 18 30 24 28" stroke="#dcd8d2" stroke-width="0.5" fill="none"/></g>
<g transform="translate(1903.0 836.0)"><path d="M154.5 27C158 40 157.5 60 157 76" stroke="#f0ede9" stroke-width="2.4" fill="none"/><path d="M156.2 74L158.4 80L157 84L158.2 88L155.6 85L155 90L154.2 80Z" fill="#ead8bf"/><path d="M122 62L131.1 88L129.2 97.7L126.3 100.5L134 101.6L135 97L138 84L142 62Z" fill="#e3dfd9"/><path d="M62 62L68.8 74.3L72.7 88L71 96L68.8 98.5L76.6 99.7L77.5 95L78 84L80 62Z" fill="#e3dfd9"/><path d="M126.3 100.3L129 97.5L134.5 98.5L134 101.8Z" fill="#6a645b"/><path d="M68.8 98.3L71.5 95.8L77 96.8L76.6 99.9Z" fill="#6a645b"/><path d="M-0.1 26.6C1 22 8 18 12.8 15.4L19.1 3.7L27.9 3.3L36.7 11.5L62 14L120.4 15.9C132 14.6 146 15.5 152.5 19.8C155 23 156 27 155.5 31.5C155 37 152 41 150.6 45.1L147.7 58.8L146.7 74.3L143.8 88L141.8 100.6L142.4 105L132.6 105L136 100.6L138.9 88L136 71.4C134 69 132 67 131 66L111.6 68.5L70.7 64.6L68.8 74.3L64.9 88L63 97.7L62.4 104.5L52.8 104.5L58.1 97.7L57.1 88L47.4 67.5C42 62 38 58 35.7 52.9L28.9 33.4L27 32.5L7.5 32.5C4 32 0.5 30 -0.1 26.6Z" fill="#f2f0ed" stroke="#d8d4cd" stroke-width="0.6" stroke-linejoin="round"/><path d="M72 65L111.6 68.5L122 67C128 62 131 57 131.5 52C122 60 110 62 96 63C86 63.5 78 63 72 62Z" fill="#e3dfd9"/><path d="M58.5 50C60 62 61 76 60 90L63.5 90C66 78 66 64 64.5 52Z" fill="#ebe8e3"/><path d="M116.5 67.5C117 62 121.4 58.8 126 58.4C131 58.6 135 62 136 68.5C135 72 132 74 130.5 74.3L130 77.5L128 74.5L125.4 77.5L124 74.2L121.6 76.5L121 73C118 72 116.5 70 116.5 67.5Z" fill="#f1c2c8"/><path d="M19.1 3.7L27.9 3.3L36.7 11.5L62 14C62.5 15.5 62 16.5 61 17.4C54 18.6 47 19.4 41.5 19C36 18.4 32 17.8 28.9 18.1C25 20 22.5 23 20.6 24.7C19.5 25.3 18.3 25 17.7 24.2C17.5 21.5 17 19.5 15.7 17.9C14.6 17 13.6 16.2 12.8 15.4Z" fill="#5d574d"/><ellipse cx="31.6" cy="5.5" rx="2.7" ry="6.2" transform="rotate(8 31.6 5.5)" fill="#5d574d"/><ellipse cx="37.2" cy="8.2" rx="2.1" ry="4.6" transform="rotate(30 37.2 8.2)" fill="#5d574d"/><path d="M28.9 33.4C29.1 31.4 31.4 31.3 33.0 30.8C34.6 30.3 36.5 29.9 38.6 30.5C40.7 31.1 43.0 33.4 45.4 34.4C47.8 35.4 50.4 36.4 53.2 36.4C56.0 36.4 59.1 34.1 62.0 34.4C64.8 34.7 69.0 37.0 70.3 38.3C71.6 39.6 71.2 41.1 69.8 42.2C68.4 43.3 65.4 44.5 62.0 45.1C58.6 45.8 52.2 45.1 49.3 46.1C46.4 47.1 45.1 48.9 44.5 51.0C43.9 53.1 44.8 56.5 45.4 58.8C46.0 61.1 48.1 63.1 48.4 64.6C48.7 66.0 48.6 68.2 47.4 67.5C46.2 66.8 43.0 62.9 41.0 60.5C39.0 58.1 37.2 55.8 35.7 52.9C34.2 50.0 33.1 46.2 32.0 43.0C30.9 39.8 28.7 35.4 28.9 33.4Z" fill="#5d574d"/><path d="M85.4 22.7C86.6 21.1 89.8 21.5 92.2 22.2C94.6 22.9 97.6 25.8 100.0 26.6C102.4 27.4 104.4 26.1 106.8 27.1C109.2 28.1 112.5 30.1 114.6 32.5C116.7 34.9 118.8 38.8 119.4 41.2C120.1 43.6 119.3 46.0 118.5 47.1C117.7 48.2 116.1 48.6 114.6 48.0C113.1 47.4 111.8 44.3 109.7 43.2C107.6 42.1 104.5 42.5 101.9 41.2C99.3 39.9 96.5 36.2 94.1 35.4C91.7 34.6 88.8 37.0 87.3 36.4C85.8 35.8 85.2 33.8 84.9 31.5C84.6 29.2 84.2 24.2 85.4 22.7Z" fill="#5d574d"/><path d="M122.7 15.8C130 14.8 146 15.5 152.5 19.8C155 23 156 27 155.5 31.5C155.3 33.5 154.6 34.5 153.8 35.2C152 35 148 33.6 145.5 31.8C143.6 27.6 143 25 140.9 22.7C138 20.6 136 20.2 133.3 19.7C129 18.8 126 17.8 122.7 15.8Z" fill="#5d574d"/><path d="M74.2 50.5C74.7 50.3 76.2 52.3 77.6 52.9C79.0 53.5 80.9 53.3 82.4 53.9C83.9 54.5 86.2 55.6 86.8 56.3C87.4 57.0 87.3 57.9 86.3 58.3C85.2 58.7 82.1 58.9 80.5 58.8C78.9 58.7 77.6 58.6 76.6 57.8C75.6 57.0 75.0 55.1 74.6 53.9C74.2 52.7 73.7 50.7 74.2 50.5Z" fill="#5d574d"/><path d="M55.5 100.5L62.6 100.2L62.6 104.7L52.4 104.8Z" fill="#6a645b"/><path d="M134.8 101.2L142 100.8L142.6 105.2L132.2 105.3Z" fill="#6a645b"/><path d="M-0.1 26.6C0.3 24.8 1.6 24 2.8 24.4C3.6 26 3 28.4 1.6 29.6C0.6 29 0 27.8 -0.1 26.6Z" fill="#f3b6c2"/><path d="M7 29.8C12 30.6 18 30 24 28" stroke="#dcd8d2" stroke-width="0.5" fill="none"/></g>
<g transform="translate(1815.2 864.4)"><path d="M154.5 27C158 40 157.5 60 157 76" stroke="#f0ede9" stroke-width="2.4" fill="none"/><path d="M156.2 74L158.4 80L157 84L158.2 88L155.6 85L155 90L154.2 80Z" fill="#ead8bf"/><path d="M122 62L131.1 88L129.2 97.7L126.3 100.5L134 101.6L135 97L138 84L142 62Z" fill="#e3dfd9"/><path d="M62 62L68.8 74.3L72.7 88L71 96L68.8 98.5L76.6 99.7L77.5 95L78 84L80 62Z" fill="#e3dfd9"/><path d="M126.3 100.3L129 97.5L134.5 98.5L134 101.8Z" fill="#6a645b"/><path d="M68.8 98.3L71.5 95.8L77 96.8L76.6 99.9Z" fill="#6a645b"/><path d="M-0.1 26.6C1 22 8 18 12.8 15.4L19.1 3.7L27.9 3.3L36.7 11.5L62 14L120.4 15.9C132 14.6 146 15.5 152.5 19.8C155 23 156 27 155.5 31.5C155 37 152 41 150.6 45.1L147.7 58.8L146.7 74.3L143.8 88L141.8 100.6L142.4 105L132.6 105L136 100.6L138.9 88L136 71.4C134 69 132 67 131 66L111.6 68.5L70.7 64.6L68.8 74.3L64.9 88L63 97.7L62.4 104.5L52.8 104.5L58.1 97.7L57.1 88L47.4 67.5C42 62 38 58 35.7 52.9L28.9 33.4L27 32.5L7.5 32.5C4 32 0.5 30 -0.1 26.6Z" fill="#f2f0ed" stroke="#d8d4cd" stroke-width="0.6" stroke-linejoin="round"/><path d="M72 65L111.6 68.5L122 67C128 62 131 57 131.5 52C122 60 110 62 96 63C86 63.5 78 63 72 62Z" fill="#e3dfd9"/><path d="M58.5 50C60 62 61 76 60 90L63.5 90C66 78 66 64 64.5 52Z" fill="#ebe8e3"/><path d="M116.5 67.5C117 62 121.4 58.8 126 58.4C131 58.6 135 62 136 68.5C135 72 132 74 130.5 74.3L130 77.5L128 74.5L125.4 77.5L124 74.2L121.6 76.5L121 73C118 72 116.5 70 116.5 67.5Z" fill="#f1c2c8"/><path d="M19.1 3.7L27.9 3.3L36.7 11.5L62 14C62.5 15.5 62 16.5 61 17.4C54 18.6 47 19.4 41.5 19C36 18.4 32 17.8 28.9 18.1C25 20 22.5 23 20.6 24.7C19.5 25.3 18.3 25 17.7 24.2C17.5 21.5 17 19.5 15.7 17.9C14.6 17 13.6 16.2 12.8 15.4Z" fill="#5d574d"/><ellipse cx="31.6" cy="5.5" rx="2.7" ry="6.2" transform="rotate(8 31.6 5.5)" fill="#5d574d"/><ellipse cx="37.2" cy="8.2" rx="2.1" ry="4.6" transform="rotate(30 37.2 8.2)" fill="#5d574d"/><path d="M28.9 33.4C29.1 31.4 31.4 31.3 33.0 30.8C34.6 30.3 36.5 29.9 38.6 30.5C40.7 31.1 43.0 33.4 45.4 34.4C47.8 35.4 50.4 36.4 53.2 36.4C56.0 36.4 59.1 34.1 62.0 34.4C64.8 34.7 69.0 37.0 70.3 38.3C71.6 39.6 71.2 41.1 69.8 42.2C68.4 43.3 65.4 44.5 62.0 45.1C58.6 45.8 52.2 45.1 49.3 46.1C46.4 47.1 45.1 48.9 44.5 51.0C43.9 53.1 44.8 56.5 45.4 58.8C46.0 61.1 48.1 63.1 48.4 64.6C48.7 66.0 48.6 68.2 47.4 67.5C46.2 66.8 43.0 62.9 41.0 60.5C39.0 58.1 37.2 55.8 35.7 52.9C34.2 50.0 33.1 46.2 32.0 43.0C30.9 39.8 28.7 35.4 28.9 33.4Z" fill="#5d574d"/><path d="M85.4 22.7C86.6 21.1 89.8 21.5 92.2 22.2C94.6 22.9 97.6 25.8 100.0 26.6C102.4 27.4 104.4 26.1 106.8 27.1C109.2 28.1 112.5 30.1 114.6 32.5C116.7 34.9 118.8 38.8 119.4 41.2C120.1 43.6 119.3 46.0 118.5 47.1C117.7 48.2 116.1 48.6 114.6 48.0C113.1 47.4 111.8 44.3 109.7 43.2C107.6 42.1 104.5 42.5 101.9 41.2C99.3 39.9 96.5 36.2 94.1 35.4C91.7 34.6 88.8 37.0 87.3 36.4C85.8 35.8 85.2 33.8 84.9 31.5C84.6 29.2 84.2 24.2 85.4 22.7Z" fill="#5d574d"/><path d="M122.7 15.8C130 14.8 146 15.5 152.5 19.8C155 23 156 27 155.5 31.5C155.3 33.5 154.6 34.5 153.8 35.2C152 35 148 33.6 145.5 31.8C143.6 27.6 143 25 140.9 22.7C138 20.6 136 20.2 133.3 19.7C129 18.8 126 17.8 122.7 15.8Z" fill="#5d574d"/><path d="M74.2 50.5C74.7 50.3 76.2 52.3 77.6 52.9C79.0 53.5 80.9 53.3 82.4 53.9C83.9 54.5 86.2 55.6 86.8 56.3C87.4 57.0 87.3 57.9 86.3 58.3C85.2 58.7 82.1 58.9 80.5 58.8C78.9 58.7 77.6 58.6 76.6 57.8C75.6 57.0 75.0 55.1 74.6 53.9C74.2 52.7 73.7 50.7 74.2 50.5Z" fill="#5d574d"/><path d="M55.5 100.5L62.6 100.2L62.6 104.7L52.4 104.8Z" fill="#6a645b"/><path d="M134.8 101.2L142 100.8L142.6 105.2L132.2 105.3Z" fill="#6a645b"/><path d="M-0.1 26.6C0.3 24.8 1.6 24 2.8 24.4C3.6 26 3 28.4 1.6 29.6C0.6 29 0 27.8 -0.1 26.6Z" fill="#f3b6c2"/><path d="M7 29.8C12 30.6 18 30 24 28" stroke="#dcd8d2" stroke-width="0.5" fill="none"/></g>
<path d="M1919.5 972.3H1926.5V1002.6H1935.2L1923.0 1051.8L1910.8 1002.6H1919.5Z" fill="#1c1c1c"/>
<path d="M1916.2 1222.0H1923.2V1252.8H1932.0L1919.7 1300.7L1907.5 1252.8H1916.2Z" fill="#1c1c1c"/>
<path d="M1916.2 1640.6H1923.2V1670.0H1932.0L1919.7 1718.3L1907.5 1670.0H1916.2Z" fill="#1c1c1c"/>
<path d="M1986.8 1044.2L2130 977L2118 1156Z" fill="#fdc9c6"/>
<circle cx="2170.1" cy="1069.5" r="99.8" fill="#f8f5f4" stroke="#c88888" stroke-width="3.9"/>
<circle cx="2171.4" cy="1014.4" r="23.0" fill="#f08aa4"/><circle cx="2196.6" cy="1014.4" r="3.6" fill="#f08aa4"/><circle cx="2194.4" cy="1019.7" r="3.6" fill="#f08aa4"/><circle cx="2192.7" cy="1024.6" r="3.6" fill="#f08aa4"/><circle cx="2191.1" cy="1030.1" r="3.6" fill="#f08aa4"/><circle cx="2186.1" cy="1032.9" r="3.6" fill="#f08aa4"/><circle cx="2181.6" cy="1035.7" r="3.6" fill="#f08aa4"/><circle cx="2177.0" cy="1039.0" r="3.6" fill="#f08aa4"/><circle cx="2171.4" cy="1038.0" r="3.6" fill="#f08aa4"/><circle cx="2166.1" cy="1037.4" r="3.6" fill="#f08aa4"/><circle cx="2160.5" cy="1037.1" r="3.6" fill="#f08aa4"/><circle cx="2156.7" cy="1032.9" r="3.6" fill="#f08aa4"/><circle cx="2152.9" cy="1029.1" r="3.6" fill="#f08aa4"/><circle cx="2148.7" cy="1025.3" r="3.6" fill="#f08aa4"/><circle cx="2148.4" cy="1019.7" r="3.6" fill="#f08aa4"/><circle cx="2147.8" cy="1014.4" r="3.6" fill="#f08aa4"/><circle cx="2146.8" cy="1008.8" r="3.6" fill="#f08aa4"/><circle cx="2150.1" cy="1004.2" r="3.6" fill="#f08aa4"/><circle cx="2152.9" cy="999.7" r="3.6" fill="#f08aa4"/><circle cx="2155.7" cy="994.7" r="3.6" fill="#f08aa4"/><circle cx="2161.2" cy="993.1" r="3.6" fill="#f08aa4"/><circle cx="2166.1" cy="991.4" r="3.6" fill="#f08aa4"/><circle cx="2171.4" cy="989.2" r="3.6" fill="#f08aa4"/><circle cx="2176.7" cy="991.4" r="3.6" fill="#f08aa4"/><circle cx="2181.6" cy="993.1" r="3.6" fill="#f08aa4"/><circle cx="2187.1" cy="994.7" r="3.6" fill="#f08aa4"/><circle cx="2189.9" cy="999.7" r="3.6" fill="#f08aa4"/><circle cx="2192.7" cy="1004.2" r="3.6" fill="#f08aa4"/><circle cx="2196.0" cy="1008.8" r="3.6" fill="#f08aa4"/><circle cx="2171.4" cy="1014.4" r="16.6" fill="#86d0ea"/><circle cx="2171.4" cy="1014.4" r="14.3" fill="#e9a3aa" stroke="#d98a94" stroke-width="0.6"/><circle cx="2171.9" cy="1015.4" r="2.7" fill="#d4707c"/>
<circle cx="2144.0" cy="1061.4" r="23.0" fill="#f08aa4"/><circle cx="2169.2" cy="1061.4" r="3.6" fill="#f08aa4"/><circle cx="2167.0" cy="1066.7" r="3.6" fill="#f08aa4"/><circle cx="2165.3" cy="1071.6" r="3.6" fill="#f08aa4"/><circle cx="2163.7" cy="1077.1" r="3.6" fill="#f08aa4"/><circle cx="2158.7" cy="1079.9" r="3.6" fill="#f08aa4"/><circle cx="2154.2" cy="1082.7" r="3.6" fill="#f08aa4"/><circle cx="2149.6" cy="1086.0" r="3.6" fill="#f08aa4"/><circle cx="2144.0" cy="1085.0" r="3.6" fill="#f08aa4"/><circle cx="2138.7" cy="1084.4" r="3.6" fill="#f08aa4"/><circle cx="2133.1" cy="1084.1" r="3.6" fill="#f08aa4"/><circle cx="2129.3" cy="1079.9" r="3.6" fill="#f08aa4"/><circle cx="2125.5" cy="1076.1" r="3.6" fill="#f08aa4"/><circle cx="2121.3" cy="1072.3" r="3.6" fill="#f08aa4"/><circle cx="2121.0" cy="1066.7" r="3.6" fill="#f08aa4"/><circle cx="2120.4" cy="1061.4" r="3.6" fill="#f08aa4"/><circle cx="2119.4" cy="1055.8" r="3.6" fill="#f08aa4"/><circle cx="2122.7" cy="1051.2" r="3.6" fill="#f08aa4"/><circle cx="2125.5" cy="1046.7" r="3.6" fill="#f08aa4"/><circle cx="2128.3" cy="1041.7" r="3.6" fill="#f08aa4"/><circle cx="2133.8" cy="1040.1" r="3.6" fill="#f08aa4"/><circle cx="2138.7" cy="1038.4" r="3.6" fill="#f08aa4"/><circle cx="2144.0" cy="1036.2" r="3.6" fill="#f08aa4"/><circle cx="2149.3" cy="1038.4" r="3.6" fill="#f08aa4"/><circle cx="2154.2" cy="1040.1" r="3.6" fill="#f08aa4"/><circle cx="2159.7" cy="1041.7" r="3.6" fill="#f08aa4"/><circle cx="2162.5" cy="1046.7" r="3.6" fill="#f08aa4"/><circle cx="2165.3" cy="1051.2" r="3.6" fill="#f08aa4"/><circle cx="2168.6" cy="1055.8" r="3.6" fill="#f08aa4"/><circle cx="2144.0" cy="1061.4" r="16.6" fill="#86d0ea"/><circle cx="2144.0" cy="1061.4" r="14.3" fill="#e9a3aa" stroke="#d98a94" stroke-width="0.6"/><circle cx="2144.5" cy="1062.4" r="2.7" fill="#d4707c"/>
<circle cx="2199.3" cy="1061.4" r="23.0" fill="#f08aa4"/><circle cx="2224.5" cy="1061.4" r="3.6" fill="#f08aa4"/><circle cx="2222.3" cy="1066.7" r="3.6" fill="#f08aa4"/><circle cx="2220.6" cy="1071.6" r="3.6" fill="#f08aa4"/><circle cx="2219.0" cy="1077.1" r="3.6" fill="#f08aa4"/><circle cx="2214.0" cy="1079.9" r="3.6" fill="#f08aa4"/><circle cx="2209.5" cy="1082.7" r="3.6" fill="#f08aa4"/><circle cx="2204.9" cy="1086.0" r="3.6" fill="#f08aa4"/><circle cx="2199.3" cy="1085.0" r="3.6" fill="#f08aa4"/><circle cx="2194.0" cy="1084.4" r="3.6" fill="#f08aa4"/><circle cx="2188.4" cy="1084.1" r="3.6" fill="#f08aa4"/><circle cx="2184.6" cy="1079.9" r="3.6" fill="#f08aa4"/><circle cx="2180.8" cy="1076.1" r="3.6" fill="#f08aa4"/><circle cx="2176.6" cy="1072.3" r="3.6" fill="#f08aa4"/><circle cx="2176.3" cy="1066.7" r="3.6" fill="#f08aa4"/><circle cx="2175.7" cy="1061.4" r="3.6" fill="#f08aa4"/><circle cx="2174.7" cy="1055.8" r="3.6" fill="#f08aa4"/><circle cx="2178.0" cy="1051.2" r="3.6" fill="#f08aa4"/><circle cx="2180.8" cy="1046.7" r="3.6" fill="#f08aa4"/><circle cx="2183.6" cy="1041.7" r="3.6" fill="#f08aa4"/><circle cx="2189.1" cy="1040.1" r="3.6" fill="#f08aa4"/><circle cx="2194.0" cy="1038.4" r="3.6" fill="#f08aa4"/><circle cx="2199.3" cy="1036.2" r="3.6" fill="#f08aa4"/><circle cx="2204.6" cy="1038.4" r="3.6" fill="#f08aa4"/><circle cx="2209.5" cy="1040.1" r="3.6" fill="#f08aa4"/><circle cx="2215.0" cy="1041.7" r="3.6" fill="#f08aa4"/><circle cx="2217.8" cy="1046.7" r="3.6" fill="#f08aa4"/><circle cx="2220.6" cy="1051.2" r="3.6" fill="#f08aa4"/><circle cx="2223.9" cy="1055.8" r="3.6" fill="#f08aa4"/><circle cx="2199.3" cy="1061.4" r="16.6" fill="#86d0ea"/><circle cx="2199.3" cy="1061.4" r="14.3" fill="#e9a3aa" stroke="#d98a94" stroke-width="0.6"/><circle cx="2199.8" cy="1062.4" r="2.7" fill="#d4707c"/>
<circle cx="2115.3" cy="1109.2" r="23.0" fill="#f08aa4"/><circle cx="2140.5" cy="1109.2" r="3.6" fill="#f08aa4"/><circle cx="2138.3" cy="1114.5" r="3.6" fill="#f08aa4"/><circle cx="2136.6" cy="1119.4" r="3.6" fill="#f08aa4"/><circle cx="2135.0" cy="1124.9" r="3.6" fill="#f08aa4"/><circle cx="2130.0" cy="1127.7" r="3.6" fill="#f08aa4"/><circle cx="2125.5" cy="1130.5" r="3.6" fill="#f08aa4"/><circle cx="2120.9" cy="1133.8" r="3.6" fill="#f08aa4"/><circle cx="2115.3" cy="1132.8" r="3.6" fill="#f08aa4"/><circle cx="2110.0" cy="1132.2" r="3.6" fill="#f08aa4"/><circle cx="2104.4" cy="1131.9" r="3.6" fill="#f08aa4"/><circle cx="2100.6" cy="1127.7" r="3.6" fill="#f08aa4"/><circle cx="2096.8" cy="1123.9" r="3.6" fill="#f08aa4"/><circle cx="2092.6" cy="1120.1" r="3.6" fill="#f08aa4"/><circle cx="2092.3" cy="1114.5" r="3.6" fill="#f08aa4"/><circle cx="2091.7" cy="1109.2" r="3.6" fill="#f08aa4"/><circle cx="2090.7" cy="1103.6" r="3.6" fill="#f08aa4"/><circle cx="2094.0" cy="1099.0" r="3.6" fill="#f08aa4"/><circle cx="2096.8" cy="1094.5" r="3.6" fill="#f08aa4"/><circle cx="2099.6" cy="1089.5" r="3.6" fill="#f08aa4"/><circle cx="2105.1" cy="1087.9" r="3.6" fill="#f08aa4"/><circle cx="2110.0" cy="1086.2" r="3.6" fill="#f08aa4"/><circle cx="2115.3" cy="1084.0" r="3.6" fill="#f08aa4"/><circle cx="2120.6" cy="1086.2" r="3.6" fill="#f08aa4"/><circle cx="2125.5" cy="1087.9" r="3.6" fill="#f08aa4"/><circle cx="2131.0" cy="1089.5" r="3.6" fill="#f08aa4"/><circle cx="2133.8" cy="1094.5" r="3.6" fill="#f08aa4"/><circle cx="2136.6" cy="1099.0" r="3.6" fill="#f08aa4"/><circle cx="2139.9" cy="1103.6" r="3.6" fill="#f08aa4"/><circle cx="2115.3" cy="1109.2" r="16.6" fill="#86d0ea"/><circle cx="2115.3" cy="1109.2" r="14.3" fill="#e9a3aa" stroke="#d98a94" stroke-width="0.6"/><circle cx="2115.8" cy="1110.2" r="2.7" fill="#d4707c"/>
<circle cx="2169.2" cy="1109.4" r="23.0" fill="#f08aa4"/><circle cx="2194.4" cy="1109.4" r="3.6" fill="#f08aa4"/><circle cx="2192.2" cy="1114.7" r="3.6" fill="#f08aa4"/><circle cx="2190.5" cy="1119.6" r="3.6" fill="#f08aa4"/><circle cx="2188.9" cy="1125.1" r="3.6" fill="#f08aa4"/><circle cx="2183.9" cy="1127.9" r="3.6" fill="#f08aa4"/><circle cx="2179.4" cy="1130.7" r="3.6" fill="#f08aa4"/><circle cx="2174.8" cy="1134.0" r="3.6" fill="#f08aa4"/><circle cx="2169.2" cy="1133.0" r="3.6" fill="#f08aa4"/><circle cx="2163.9" cy="1132.4" r="3.6" fill="#f08aa4"/><circle cx="2158.3" cy="1132.1" r="3.6" fill="#f08aa4"/><circle cx="2154.5" cy="1127.9" r="3.6" fill="#f08aa4"/><circle cx="2150.7" cy="1124.1" r="3.6" fill="#f08aa4"/><circle cx="2146.5" cy="1120.3" r="3.6" fill="#f08aa4"/><circle cx="2146.2" cy="1114.7" r="3.6" fill="#f08aa4"/><circle cx="2145.6" cy="1109.4" r="3.6" fill="#f08aa4"/><circle cx="2144.6" cy="1103.8" r="3.6" fill="#f08aa4"/><circle cx="2147.9" cy="1099.2" r="3.6" fill="#f08aa4"/><circle cx="2150.7" cy="1094.7" r="3.6" fill="#f08aa4"/><circle cx="2153.5" cy="1089.7" r="3.6" fill="#f08aa4"/><circle cx="2159.0" cy="1088.1" r="3.6" fill="#f08aa4"/><circle cx="2163.9" cy="1086.4" r="3.6" fill="#f08aa4"/><circle cx="2169.2" cy="1084.2" r="3.6" fill="#f08aa4"/><circle cx="2174.5" cy="1086.4" r="3.6" fill="#f08aa4"/><circle cx="2179.4" cy="1088.1" r="3.6" fill="#f08aa4"/><circle cx="2184.9" cy="1089.7" r="3.6" fill="#f08aa4"/><circle cx="2187.7" cy="1094.7" r="3.6" fill="#f08aa4"/><circle cx="2190.5" cy="1099.2" r="3.6" fill="#f08aa4"/><circle cx="2193.8" cy="1103.8" r="3.6" fill="#f08aa4"/><circle cx="2169.2" cy="1109.4" r="16.6" fill="#86d0ea"/><circle cx="2169.2" cy="1109.4" r="14.3" fill="#e9a3aa" stroke="#d98a94" stroke-width="0.6"/><circle cx="2169.7" cy="1110.4" r="2.7" fill="#d4707c"/>
<circle cx="2226.6" cy="1110.2" r="23.0" fill="#f08aa4"/><circle cx="2251.8" cy="1110.2" r="3.6" fill="#f08aa4"/><circle cx="2249.6" cy="1115.5" r="3.6" fill="#f08aa4"/><circle cx="2247.9" cy="1120.4" r="3.6" fill="#f08aa4"/><circle cx="2246.3" cy="1125.9" r="3.6" fill="#f08aa4"/><circle cx="2241.3" cy="1128.7" r="3.6" fill="#f08aa4"/><circle cx="2236.8" cy="1131.5" r="3.6" fill="#f08aa4"/><circle cx="2232.2" cy="1134.8" r="3.6" fill="#f08aa4"/><circle cx="2226.6" cy="1133.8" r="3.6" fill="#f08aa4"/><circle cx="2221.3" cy="1133.2" r="3.6" fill="#f08aa4"/><circle cx="2215.7" cy="1132.9" r="3.6" fill="#f08aa4"/><circle cx="2211.9" cy="1128.7" r="3.6" fill="#f08aa4"/><circle cx="2208.1" cy="1124.9" r="3.6" fill="#f08aa4"/><circle cx="2203.9" cy="1121.1" r="3.6" fill="#f08aa4"/><circle cx="2203.6" cy="1115.5" r="3.6" fill="#f08aa4"/><circle cx="2203.0" cy="1110.2" r="3.6" fill="#f08aa4"/><circle cx="2202.0" cy="1104.6" r="3.6" fill="#f08aa4"/><circle cx="2205.3" cy="1100.0" r="3.6" fill="#f08aa4"/><circle cx="2208.1" cy="1095.5" r="3.6" fill="#f08aa4"/><circle cx="2210.9" cy="1090.5" r="3.6" fill="#f08aa4"/><circle cx="2216.4" cy="1088.9" r="3.6" fill="#f08aa4"/><circle cx="2221.3" cy="1087.2" r="3.6" fill="#f08aa4"/><circle cx="2226.6" cy="1085.0" r="3.6" fill="#f08aa4"/><circle cx="2231.9" cy="1087.2" r="3.6" fill="#f08aa4"/><circle cx="2236.8" cy="1088.9" r="3.6" fill="#f08aa4"/><circle cx="2242.3" cy="1090.5" r="3.6" fill="#f08aa4"/><circle cx="2245.1" cy="1095.5" r="3.6" fill="#f08aa4"/><circle cx="2247.9" cy="1100.0" r="3.6" fill="#f08aa4"/><circle cx="2251.2" cy="1104.6" r="3.6" fill="#f08aa4"/><circle cx="2226.6" cy="1110.2" r="16.6" fill="#86d0ea"/><circle cx="2226.6" cy="1110.2" r="14.3" fill="#e9a3aa" stroke="#d98a94" stroke-width="0.6"/><circle cx="2227.1" cy="1111.2" r="2.7" fill="#d4707c"/>
<defs><linearGradient id="ovfade" x1="1985" y1="1150" x2="2008" y2="1172" gradientUnits="userSpaceOnUse"><stop offset="0" stop-color="#fff" stop-opacity="0"/><stop offset="1" stop-color="#fff" stop-opacity="1"/></linearGradient></defs><path d="M1848.9 1121.5C1848.7 1115.2 1849.5 1111.5 1852.7 1106.4C1855.9 1101.4 1861.6 1095.8 1867.9 1091.2C1874.2 1086.7 1883.8 1081.8 1890.6 1079.1C1897.4 1076.4 1902.5 1075.5 1908.8 1075.3C1915.1 1075.0 1921.4 1077.7 1928.5 1077.6C1935.6 1077.5 1944.9 1074.5 1951.2 1074.5C1957.5 1074.5 1961.6 1075.6 1966.4 1077.6C1971.2 1079.6 1976.5 1082.7 1980.0 1086.7C1983.5 1090.7 1985.8 1096.0 1987.6 1101.8C1989.4 1107.6 1989.6 1115.2 1990.6 1121.5C1991.6 1127.8 1992.1 1133.8 1993.6 1139.7C1995.1 1145.6 1997.7 1152.2 1999.7 1156.7C2001.7 1161.2 2007.6 1164.3 2005.8 1166.5C2004.0 1168.7 1995.7 1169.3 1989.1 1170.0C1982.5 1170.7 1972.7 1170.0 1966.4 1170.5C1960.1 1171.0 1958.8 1172.8 1951.2 1173.0C1943.6 1173.2 1931.0 1172.2 1920.9 1171.5C1910.8 1170.8 1899.4 1170.5 1890.6 1168.5C1881.8 1166.5 1874.0 1163.5 1867.9 1159.4C1861.8 1155.4 1857.4 1150.5 1854.2 1144.2C1851.0 1137.9 1849.2 1127.8 1848.9 1121.5Z" fill="#f3d3d7" stroke="#e6a3aa" stroke-width="1"/><path d="M1851.2 1119.0C1852.3 1112.9 1858.0 1110.1 1862.0 1107.0C1866.0 1103.9 1868.7 1102.2 1875.5 1100.3C1882.3 1098.4 1896.2 1097.6 1902.7 1095.8C1909.2 1094.0 1910.5 1091.0 1914.8 1089.7C1919.1 1088.4 1925.0 1087.5 1928.5 1088.2C1932.0 1089.0 1933.2 1093.7 1936.0 1094.2C1938.8 1094.7 1941.4 1091.2 1945.2 1091.2C1949.0 1091.2 1954.5 1091.7 1958.8 1094.2C1963.1 1096.7 1967.1 1103.4 1970.9 1106.4C1974.7 1109.4 1978.5 1109.7 1981.5 1112.4C1984.5 1115.1 1986.9 1118.0 1988.6 1122.5C1990.3 1127.0 1990.1 1134.0 1991.6 1139.7C1993.1 1145.4 1995.7 1152.4 1997.7 1156.7C1999.7 1161.0 2005.2 1163.5 2003.8 1165.5C2002.4 1167.5 1995.3 1167.9 1989.1 1168.5C1982.9 1169.1 1972.7 1168.5 1966.4 1169.0C1960.1 1169.5 1958.8 1171.3 1951.2 1171.5C1943.6 1171.7 1931.0 1170.8 1920.9 1170.0C1910.8 1169.2 1899.3 1168.9 1890.6 1167.0C1881.9 1165.1 1874.7 1162.3 1868.9 1158.4C1863.1 1154.5 1858.5 1150.4 1855.6 1143.8C1852.6 1137.2 1850.1 1125.1 1851.2 1119.0Z" fill="#f2bcc2" stroke="#eaa4ab" stroke-width="0.7"/><path d="M1897 1130C1912 1140 1924 1134 1936 1142C1950 1150 1962 1142 1974 1152C1984 1160 1992 1164 2002 1167" stroke="#c8474f" stroke-width="1.3" fill="none"/><path d="M1900 1133C1914 1142 1926 1138 1938 1146C1952 1153 1962 1146 1974 1156C1984 1163 1994 1166 2004 1169" stroke="#5a7fc4" stroke-width="1.1" fill="none"/><path d="M1926 1124C1932 1132 1934 1138 1938 1144M1944 1126C1948 1134 1950 1140 1954 1146M1948 1160C1956 1154 1964 1152 1972 1154" stroke="#8d6aa8" stroke-width="0.9" fill="none"/><path d="M1980 1146L2010 1146L2010 1176L1990 1176Z" fill="url(#ovfade)"/><path d="M1868 1104L1872 1100L1875 1103L1879 1099L1882 1103C1890 1106 1894 1112 1890 1118C1892 1124 1886 1128 1878 1126C1872 1124 1872 1116 1872 1112C1870 1108 1866 1108 1868 1104Z" fill="#cf5a5f" stroke="#e98f92" stroke-width="2"/><circle cx="1864" cy="1098.5" r="3.2" fill="#fff" stroke="#e77f88" stroke-width="1.2"/><circle cx="1864" cy="1098.5" r="0.9" fill="#c9545a"/><circle cx="1919.4" cy="1107.9" r="12.5" fill="#f3a3a6" stroke="#ee8f94" stroke-width="0.8"/><circle cx="1919.4" cy="1107.9" r="9.0" fill="#ee7f86"/><circle cx="1946.7" cy="1105.6" r="11" fill="#f3a3a6" stroke="#ee8f94" stroke-width="0.8"/><circle cx="1946.7" cy="1105.6" r="7.9" fill="#ee7f86"/><circle cx="1967.9" cy="1117" r="7.5" fill="#f3a3a6" stroke="#ee8f94" stroke-width="0.8"/><circle cx="1967.9" cy="1117" r="5.4" fill="#ee7f86"/><path d="M1911 1106C1911 1098 1922 1096 1927 1102C1929 1108 1926 1113 1921 1113C1916 1110 1914 1116 1911 1106Z" fill="#d6565f"/><path d="M1940 1103C1942 1097 1950 1096 1954 1101C1950 1100 1945 1101 1943 1106Z" fill="#d6565f"/><circle cx="1922.5" cy="1114" r="2.6" fill="#fff"/><circle cx="1922.5" cy="1114" r="0.9" fill="#c9545a"/><circle cx="1948" cy="1110" r="2.6" fill="#fff"/><circle cx="1948" cy="1110" r="0.9" fill="#c9545a"/><circle cx="1967.9" cy="1117" r="2.6" fill="#fff"/><circle cx="1967.9" cy="1117" r="0.9" fill="#c9545a"/><circle cx="1972.5" cy="1131" r="2.3" fill="#fbeaec" stroke="#e58c94" stroke-width="0.6"/><circle cx="1972.5" cy="1131" r="0.6" fill="#c9545a"/><circle cx="1981" cy="1132.5" r="2.3" fill="#fbeaec" stroke="#e58c94" stroke-width="0.6"/><circle cx="1981" cy="1132.5" r="0.6" fill="#c9545a"/><circle cx="1976.5" cy="1138.5" r="2.3" fill="#fbeaec" stroke="#e58c94" stroke-width="0.6"/><circle cx="1976.5" cy="1138.5" r="0.6" fill="#c9545a"/><circle cx="1873.9" cy="1138.2" r="4.2" fill="#f8e08a" stroke="#e6c65c" stroke-width="0.5"/><circle cx="1871.7" cy="1143.5" r="4.2" fill="#f8e08a" stroke="#e6c65c" stroke-width="0.5"/><circle cx="1866.4" cy="1145.7" r="4.2" fill="#f8e08a" stroke="#e6c65c" stroke-width="0.5"/><circle cx="1861.1" cy="1143.5" r="4.2" fill="#f8e08a" stroke="#e6c65c" stroke-width="0.5"/><circle cx="1858.9" cy="1138.2" r="4.2" fill="#f8e08a" stroke="#e6c65c" stroke-width="0.5"/><circle cx="1861.1" cy="1132.9" r="4.2" fill="#f8e08a" stroke="#e6c65c" stroke-width="0.5"/><circle cx="1866.4" cy="1130.7" r="4.2" fill="#f8e08a" stroke="#e6c65c" stroke-width="0.5"/><circle cx="1871.7" cy="1132.9" r="4.2" fill="#f8e08a" stroke="#e6c65c" stroke-width="0.5"/><circle cx="1866.4" cy="1138.2" r="5.6" fill="#f8e08a"/><polygon points="1871.1,1138.2 1868.3,1139.3 1868.7,1142.2 1866.4,1140.5 1864.1,1142.2 1864.5,1139.3 1861.8,1138.2 1864.5,1137.1 1864.1,1134.2 1866.4,1136.0 1868.7,1134.2 1868.3,1137.1" fill="#ee8a62"/><circle cx="1907.2" cy="1153.3" r="5.6" fill="#f8e08a" stroke="#e6c65c" stroke-width="0.5"/><circle cx="1904.1" cy="1160.7" r="5.6" fill="#f8e08a" stroke="#e6c65c" stroke-width="0.5"/><circle cx="1896.7" cy="1163.8" r="5.6" fill="#f8e08a" stroke="#e6c65c" stroke-width="0.5"/><circle cx="1889.3" cy="1160.7" r="5.6" fill="#f8e08a" stroke="#e6c65c" stroke-width="0.5"/><circle cx="1886.2" cy="1153.3" r="5.6" fill="#f8e08a" stroke="#e6c65c" stroke-width="0.5"/><circle cx="1889.3" cy="1145.9" r="5.6" fill="#f8e08a" stroke="#e6c65c" stroke-width="0.5"/><circle cx="1896.7" cy="1142.8" r="5.6" fill="#f8e08a" stroke="#e6c65c" stroke-width="0.5"/><circle cx="1904.1" cy="1145.9" r="5.6" fill="#f8e08a" stroke="#e6c65c" stroke-width="0.5"/><circle cx="1896.7" cy="1153.3" r="7.9" fill="#f8e08a"/><polygon points="1903.2,1153.3 1899.4,1154.9 1900.0,1158.9 1896.7,1156.5 1893.4,1158.9 1894.0,1154.9 1890.2,1153.3 1894.0,1151.7 1893.4,1147.7 1896.7,1150.1 1900.0,1147.7 1899.4,1151.7" fill="#ee8a62"/><path d="M1920 1154C1921 1149 1926 1149 1928 1151C1932 1149 1936 1152 1934 1156C1937 1159 1932 1162 1929 1160C1925 1163 1920 1160 1920 1154Z" fill="#f0d9a0" stroke="#d9bd7a" stroke-width="0.5"/>
<g transform="translate(1927 1099.5) rotate(-49.85)"><path d="M0 0H34" stroke="#555" stroke-width="1.2"/><path d="M33 -1.6L44 -3.6V3.6L33 1.6Z" fill="#3fb5a3"/><rect x="44" y="-5.2" width="8" height="10.4" rx="1.5" fill="#43a897"/><path d="M138 -8H190Q193 -8 194.5 -5.5L196 -4.5H207V4.5H196L194.5 5.5Q193 8 190 8H138Z" fill="#ececec" stroke="#b8b8b8" stroke-width="0.8"/><rect x="148" y="-2.5" width="40" height="5" fill="#f6f6f6"/><rect x="205.5" y="-13.5" width="8" height="27" rx="3.8" fill="#f2f2f2" stroke="#b8b8b8" stroke-width="0.8"/><rect x="51" y="-10.8" width="86" height="21.6" rx="3" fill="#ececec" stroke="#b5b5b5" stroke-width="0.9"/><rect x="51.6" y="-10.2" width="61" height="20.4" rx="2.5" fill="#f6d879" stroke="#d8b656" stroke-width="0.8"/><rect x="52" y="-9.6" width="60" height="4.5" rx="2" fill="#f9e49c"/><rect x="112" y="-10" width="6.5" height="20" fill="#4a4a4a"/><rect x="118.5" y="-7.5" width="12" height="15" fill="#d6d6d6"/><path d="M60.0 3.5V9.6M64.2 3.5V9.6M68.4 3.5V9.6M72.6 3.5V9.6M76.8 3.5V9.6M81.0 3.5V9.6M85.2 3.5V9.6M89.4 3.5V9.6M93.6 3.5V9.6M97.8 3.5V9.6M102.0 3.5V9.6M106.2 3.5V9.6" stroke="#c7a548" stroke-width="0.6"/><rect x="133" y="-19.5" width="7.5" height="39" rx="3.6" fill="#f0f0f0" stroke="#b8b8b8" stroke-width="0.8"/></g>
<path d="M1931.5 1358.5Q1951 1392 1986 1408.5" stroke="#d8783a" stroke-width="33.5" stroke-linecap="round" fill="none"/><path d="M1931.5 1358.5Q1951 1392 1986 1408.5" stroke="#e9955f" stroke-width="31" stroke-linecap="round" fill="none"/><path d="M2042.5 1360Q2023 1393 1988 1409.5" stroke="#d8783a" stroke-width="33.5" stroke-linecap="round" fill="none"/><path d="M2042.5 1360Q2023 1393 1988 1409.5" stroke="#e9955f" stroke-width="31" stroke-linecap="round" fill="none"/><text class="d" font-weight="bold" font-size="30" x="1940.5 1964.5 1992 2012.5" y="1391.5 1407 1406.5 1396.5" rotate="26 8 -14 -26" fill="#000">GDF9</text>
<path d="M2180.1 1347.6L2191.1 1348.3L2191.4 1351.3M2178.2 1358.6L2191.3 1362.2L2190.9 1365.2M2174.2 1368.9L2183.9 1374.0L2183.0 1376.8M2168.0 1378.1L2178.4 1386.7L2176.9 1389.3M2160.1 1385.8L2167.0 1394.5L2165.0 1396.7M2150.8 1391.8L2156.8 1403.9L2154.3 1405.6M2140.4 1395.6L2143.1 1406.3L2140.4 1407.5M2129.4 1397.3L2130.0 1410.7L2127.1 1411.4M2118.4 1396.6L2116.5 1407.4L2113.5 1407.4M2107.7 1393.6L2102.7 1406.1L2099.8 1405.5M2097.9 1388.4L2091.8 1397.6L2089.0 1396.4M2089.3 1381.4L2079.7 1390.8L2077.3 1389.1M2082.5 1372.7L2073.2 1378.6L2071.1 1376.4M2077.5 1362.8L2064.9 1367.5L2063.4 1364.9M2074.8 1352.0L2063.9 1353.6L2063.0 1350.8M2074.3 1341.0L2060.8 1340.1L2060.5 1337.1M2076.2 1330.0L2065.6 1327.1L2065.9 1324.1M2080.2 1319.7L2068.3 1313.5L2069.2 1310.6M2086.4 1310.5L2077.9 1303.5L2079.4 1300.9M2094.3 1302.8L2085.9 1292.2L2087.9 1289.9M2103.6 1296.8L2098.7 1287.0L2101.2 1285.2M2114.0 1293.0L2110.7 1279.9L2113.4 1278.7M2125.0 1291.3L2124.5 1280.4L2127.5 1279.7M2136.0 1292.0L2138.3 1278.7L2141.3 1278.7M2146.7 1295.0L2150.8 1284.8L2153.7 1285.4M2156.5 1300.2L2164.0 1288.9L2166.7 1290.1M2165.1 1307.2L2172.9 1299.5L2175.4 1301.3M2171.9 1315.9L2183.3 1308.7L2185.4 1310.9M2176.9 1325.8L2187.2 1322.0L2188.7 1324.6M2179.6 1336.6L2193.0 1334.6L2193.9 1337.4" stroke="#b88fbe" stroke-width="1" fill="none"/><circle cx="2127.2" cy="1344.3" r="53" fill="#f3e6f3" stroke="#b88fbe" stroke-width="1.8"/><path d="M2164.2 1344.3L2171.2 1344.3M2172.7 1344.3L2179.2 1344.3M2164.1 1346.9L2171.1 1347.4M2172.6 1347.5L2179.1 1347.9M2163.8 1349.4L2170.8 1350.4M2172.3 1350.6L2178.7 1351.5M2163.4 1352.0L2170.2 1353.4M2171.7 1353.8L2178.1 1355.1M2162.8 1354.5L2169.5 1356.4M2170.9 1356.8L2177.2 1358.6M2162.0 1357.0L2168.5 1359.3M2170.0 1359.9L2176.1 1362.1M2161.0 1359.3L2167.4 1362.2M2168.8 1362.8L2174.7 1365.5M2159.9 1361.7L2166.0 1365.0M2167.4 1365.7L2173.1 1368.7M2158.6 1363.9L2164.5 1367.6M2165.8 1368.4L2171.3 1371.9M2157.1 1366.0L2162.8 1370.2M2164.0 1371.0L2169.3 1374.9M2155.5 1368.1L2160.9 1372.6M2162.1 1373.5L2167.0 1377.7M2153.8 1370.0L2158.9 1374.9M2159.9 1375.9L2164.6 1380.4M2152.0 1371.8L2156.6 1377.0M2157.6 1378.1L2162.0 1382.9M2150.0 1373.5L2154.3 1379.0M2155.2 1380.2L2159.2 1385.3M2147.9 1375.0L2151.8 1380.8M2152.6 1382.0L2156.3 1387.4M2145.7 1376.3L2149.2 1382.4M2149.9 1383.7L2153.2 1389.3M2143.4 1377.6L2146.5 1383.8M2147.1 1385.2L2150.0 1391.0M2141.1 1378.6L2143.7 1385.1M2144.2 1386.5L2146.7 1392.5M2138.6 1379.5L2140.8 1386.1M2141.3 1387.6L2143.3 1393.8M2136.2 1380.2L2137.8 1387.0M2138.2 1388.4L2139.8 1394.8M2133.6 1380.7L2134.8 1387.6M2135.1 1389.1L2136.2 1395.5M2131.1 1381.1L2131.8 1388.1M2132.0 1389.6L2132.6 1396.0M2128.5 1381.3L2128.7 1388.3M2128.8 1389.8L2129.0 1396.3M2125.9 1381.3L2125.7 1388.3M2125.6 1389.8L2125.4 1396.3M2123.3 1381.1L2122.6 1388.1M2122.4 1389.6L2121.8 1396.0M2120.8 1380.7L2119.6 1387.6M2119.3 1389.1L2118.2 1395.5M2118.2 1380.2L2116.6 1387.0M2116.2 1388.4L2114.6 1394.8M2115.8 1379.5L2113.6 1386.1M2113.1 1387.6L2111.1 1393.8M2113.3 1378.6L2110.7 1385.1M2110.2 1386.5L2107.7 1392.5M2111.0 1377.6L2107.9 1383.8M2107.3 1385.2L2104.4 1391.0M2108.7 1376.3L2105.2 1382.4M2104.4 1383.7L2101.2 1389.3M2106.5 1375.0L2102.6 1380.8M2101.8 1382.0L2098.1 1387.4M2104.4 1373.5L2100.1 1379.0M2099.2 1380.2L2095.2 1385.3M2102.4 1371.8L2097.8 1377.0M2096.8 1378.1L2092.4 1382.9M2100.6 1370.0L2095.5 1374.9M2094.5 1375.9L2089.8 1380.4M2098.9 1368.1L2093.5 1372.6M2092.3 1373.5L2087.4 1377.7M2097.3 1366.0L2091.6 1370.2M2090.4 1371.0L2085.1 1374.9M2095.8 1363.9L2089.9 1367.6M2088.6 1368.4L2083.1 1371.9M2094.5 1361.7L2088.4 1365.0M2087.0 1365.7L2081.3 1368.7M2093.4 1359.3L2087.0 1362.2M2085.6 1362.8L2079.7 1365.5M2092.4 1357.0L2085.9 1359.3M2084.4 1359.9L2078.3 1362.1M2091.6 1354.5L2084.9 1356.4M2083.5 1356.8L2077.2 1358.6M2091.0 1352.0L2084.2 1353.4M2082.7 1353.8L2076.3 1355.1M2090.6 1349.4L2083.6 1350.4M2082.1 1350.6L2075.7 1351.5M2090.3 1346.9L2083.3 1347.4M2081.8 1347.5L2075.3 1347.9M2090.2 1344.3L2083.2 1344.3M2081.7 1344.3L2075.2 1344.3M2090.3 1341.7L2083.3 1341.2M2081.8 1341.1L2075.3 1340.7M2090.6 1339.2L2083.6 1338.2M2082.1 1338.0L2075.7 1337.1M2091.0 1336.6L2084.2 1335.2M2082.7 1334.8L2076.3 1333.5M2091.6 1334.1L2084.9 1332.2M2083.5 1331.8L2077.2 1330.0M2092.4 1331.6L2085.9 1329.3M2084.4 1328.7L2078.3 1326.5M2093.4 1329.3L2087.0 1326.4M2085.6 1325.8L2079.7 1323.1M2094.5 1326.9L2088.4 1323.6M2087.0 1322.9L2081.3 1319.9M2095.8 1324.7L2089.9 1321.0M2088.6 1320.2L2083.1 1316.7M2097.3 1322.6L2091.6 1318.4M2090.4 1317.6L2085.1 1313.7M2098.9 1320.5L2093.5 1316.0M2092.3 1315.1L2087.4 1310.9M2100.6 1318.6L2095.5 1313.7M2094.5 1312.7L2089.8 1308.2M2102.4 1316.8L2097.8 1311.6M2096.8 1310.5L2092.4 1305.7M2104.4 1315.1L2100.1 1309.6M2099.2 1308.4L2095.2 1303.3M2106.5 1313.6L2102.6 1307.8M2101.8 1306.6L2098.1 1301.2M2108.7 1312.3L2105.2 1306.2M2104.4 1304.9L2101.2 1299.3M2111.0 1311.0L2107.9 1304.8M2107.3 1303.4L2104.4 1297.6M2113.3 1310.0L2110.7 1303.5M2110.2 1302.1L2107.7 1296.1M2115.8 1309.1L2113.6 1302.5M2113.1 1301.0L2111.1 1294.8M2118.2 1308.4L2116.6 1301.6M2116.2 1300.2L2114.6 1293.8M2120.8 1307.9L2119.6 1301.0M2119.3 1299.5L2118.2 1293.1M2123.3 1307.5L2122.6 1300.5M2122.4 1299.0L2121.8 1292.6M2125.9 1307.3L2125.7 1300.3M2125.6 1298.8L2125.4 1292.3M2128.5 1307.3L2128.7 1300.3M2128.8 1298.8L2129.0 1292.3M2131.1 1307.5L2131.8 1300.5M2132.0 1299.0L2132.6 1292.6M2133.6 1307.9L2134.8 1301.0M2135.1 1299.5L2136.2 1293.1M2136.2 1308.4L2137.8 1301.6M2138.2 1300.2L2139.8 1293.8M2138.6 1309.1L2140.8 1302.5M2141.3 1301.0L2143.3 1294.8M2141.1 1310.0L2143.7 1303.5M2144.2 1302.1L2146.7 1296.1M2143.4 1311.0L2146.5 1304.8M2147.1 1303.4L2150.0 1297.6M2145.7 1312.3L2149.2 1306.2M2149.9 1304.9L2153.2 1299.3M2147.9 1313.6L2151.8 1307.8M2152.6 1306.6L2156.3 1301.2M2150.0 1315.1L2154.3 1309.6M2155.2 1308.4L2159.2 1303.3M2152.0 1316.8L2156.6 1311.6M2157.6 1310.5L2162.0 1305.7M2153.8 1318.6L2158.9 1313.7M2159.9 1312.7L2164.6 1308.2M2155.5 1320.5L2160.9 1316.0M2162.1 1315.1L2167.0 1310.9M2157.1 1322.6L2162.8 1318.4M2164.0 1317.6L2169.3 1313.7M2158.6 1324.7L2164.5 1321.0M2165.8 1320.2L2171.3 1316.7M2159.9 1326.9L2166.0 1323.6M2167.4 1322.9L2173.1 1319.9M2161.0 1329.3L2167.4 1326.4M2168.8 1325.8L2174.7 1323.1M2162.0 1331.6L2168.5 1329.3M2170.0 1328.7L2176.1 1326.5M2162.8 1334.1L2169.5 1332.2M2170.9 1331.8L2177.2 1330.0M2163.4 1336.6L2170.2 1335.2M2171.7 1334.8L2178.1 1333.5M2163.8 1339.2L2170.8 1338.2M2172.3 1338.0L2178.7 1337.1M2164.1 1341.7L2171.1 1341.2M2172.6 1341.1L2179.1 1340.7" stroke="#d5b7d9" stroke-width="0.7"/><circle cx="2127.2" cy="1344.3" r="36" fill="#fceef5" stroke="#b88fbe" stroke-width="1.8"/><circle cx="2122.0" cy="1327.5" r="2.6" fill="#ee7d90"/><circle cx="2134.6" cy="1325.8" r="2.6" fill="#f7c0cb"/><circle cx="2111.3" cy="1334.5" r="2.6" fill="#f7c0cb"/><circle cx="2144.2" cy="1336.2" r="2.6" fill="#f7c0cb"/><circle cx="2127.2" cy="1341.4" r="2.6" fill="#f7c0cb"/><circle cx="2107.4" cy="1348.0" r="2.6" fill="#ee7d90"/><circle cx="2120.8" cy="1352.1" r="2.6" fill="#ee7d90"/><circle cx="2135.0" cy="1349.7" r="2.6" fill="#ee7d90"/><circle cx="2146.2" cy="1353.9" r="2.6" fill="#ee7d90"/><circle cx="2115.2" cy="1361.3" r="2.6" fill="#f7c0cb"/><circle cx="2132.0" cy="1363.5" r="2.6" fill="#ee7d90"/><rect x="-11" y="-5" width="22" height="10" rx="4.5" fill="#c24f9c" stroke="#a03b80" stroke-width="0.6" transform="translate(2092.2 1312.8) rotate(38)"/><rect x="-11" y="-5" width="22" height="10" rx="4.5" fill="#c24f9c" stroke="#a03b80" stroke-width="0.6" transform="translate(2170.1 1358.7) rotate(28)"/><g transform="translate(2148.5 1303.3) rotate(28)"><rect x="-9" y="-10" width="18" height="20" rx="4" fill="#62b0e0"/><rect x="-3" y="-10" width="4" height="20" fill="#4b94c8"/></g><rect x="-8" y="-9.5" width="16" height="19" rx="4" fill="#a6a5ea" stroke="#8c8bd6" stroke-width="0.6" transform="translate(2101.7 1380.3) rotate(32)"/><text class="d" font-weight="bold" font-size="29" x="2101 2122.6 2141.6" y="1418 1422.8 1422.8" rotate="11 0 0" fill="#000">LPS</text>
<path d="M1983.6 1422.7C1962 1446 1949 1462 1948.8 1482C1949 1506 1966 1524 1983 1531.8L1976.8 1538.6L2014.7 1539.4L1993.5 1509.1L1988.9 1516.1C1972 1504 1960.5 1492 1960.2 1474C1960.5 1458 1970 1441 1983.6 1422.7Z" fill="#2d2d2d"/><path d="M2134.4 1419.7C2154 1442 2165 1458 2165.5 1476C2165 1500 2150 1518 2132.1 1528.8L2142 1533.3L2104.1 1535.6L2123.8 1504.5L2128.3 1515.2C2144 1502 2154.5 1490 2154.8 1471C2154.5 1455 2146 1438 2134.4 1419.7Z" fill="#2d2d2d"/>
<path d="M1996.5 1565.9V1584.9A65.5 37.9 0 0 0 2127.5 1584.9V1565.9Z" fill="#dcecf4" stroke="#aab4ba" stroke-width="0.8"/><ellipse cx="2062" cy="1565.9" rx="65.5" ry="37.9" fill="#eef4f7" stroke="#aab4ba" stroke-width="0.8"/><ellipse cx="2062" cy="1567.4" rx="62.5" ry="34.9" fill="#f3f8fa" stroke="#b8c2c8" stroke-width="0.6"/><path d="M2000.0 1573.9A62.0 29.9 0 0 1 2124.0 1573.9A62.0 31.4 0 0 1 2000.0 1573.9Z" fill="#dff0f7" stroke="#b5dbea" stroke-width="1"/><text class="d" font-weight="bold" font-size="27.5" x="2061.6" y="1578.8" text-anchor="middle" textLength="48.5" lengthAdjust="spacingAndGlyphs">IVM</text>
<text class="d" font-size="26" x="1945.4" y="1652" textLength="233.4" lengthAdjust="spacingAndGlyphs">(cumulus expansion)</text>
<path d="M1843.3 1931.4V1950.2A64.0 7.5 0 0 0 1971.3 1950.2V1931.4A64.0 7.5 0 0 0 1843.3 1931.4Z" fill="#e4f0f6" stroke="#93acba" stroke-width="0.8"/><path d="M1844.1 1939.3A64.0 7.5 0 0 0 1970.5 1939.3V1950.2A64.0 7.5 0 0 1 1844.1 1950.2Z" fill="#c6e5f3"/><path d="M1844.1 1939.3A64.0 7.5 0 0 0 1970.5 1939.3" fill="none" stroke="#7cc3dc" stroke-width="1"/><path d="M1844.1 1944.3A64.0 7.5 0 0 0 1970.5 1944.3" fill="none" stroke="#a9d8ea" stroke-width="0.8"/><ellipse cx="1907.3" cy="1931.4" rx="64.0" ry="7.5" fill="#f1f6f9" stroke="#9eb3bf" stroke-width="0.9"/><ellipse cx="1907.3" cy="1932.4" rx="61.0" ry="5.9" fill="#eaf2f7" stroke="#b9c8d1" stroke-width="0.6"/><ellipse cx="1906.3" cy="1946.6" rx="7.4" ry="5.2" fill="#e2709b"/><rect x="1898.9" y="1946.6" width="14.8" height="3.6" rx="1.8" fill="#e2709b"/><path d="M1860.2 1864.1L1906.1 1942M1953.2 1865.9L1907.3 1942" stroke="#333" stroke-width="1.4" stroke-dasharray="2.6 2.8" fill="none"/><circle cx="1907.4" cy="1822" r="62.7" fill="#f7fcfe" stroke="#111" stroke-width="1.3"/><circle cx="1906.1" cy="1818.8" r="28.4" fill="#f7f0f6" stroke="#7ccbe3" stroke-width="1"/><circle cx="1906.1" cy="1818.8" r="26.2" fill="none" stroke="#7ccbe3" stroke-width="0.9"/><circle cx="1906.1" cy="1818.8" r="24" fill="none" stroke="#9ad6ea" stroke-width="0.8"/><circle cx="1907.3" cy="1818.2" r="19.3" fill="#f7cfd1"/><circle cx="1902.4" cy="1808.3" r="3.4" fill="#bba9de"/><path d="M1887.5 1829C1889.5 1827 1891 1830 1890 1832.5C1888 1833 1886.5 1831 1887.5 1829Z" fill="#fff" stroke="#9a5fb2" stroke-width="0.7"/><clipPath id="ivfc"><circle cx="1907.4" cy="1822" r="61.7"/></clipPath><g clip-path="url(#ivfc)"><g transform="translate(1898.2 1781.6) rotate(8)"><path d="M3 0C9 -0.5 12 0.5 15 0C19 -1 21 3 24.5 2C29 0 31 -6 28 -10C25.5 -14 21 -11 17.5 -12.5C14 -14 11 -12 8 -13" stroke="#8fc3d8" stroke-width="0.6" fill="none"/><rect x="2.5" y="-1" width="8.5" height="2" rx="1" fill="#9ccadd"/><ellipse cx="0" cy="0" rx="3.4" ry="2.1" fill="#9a5fb2"/></g><g transform="translate(1936.0 1778.4) rotate(52)"><path d="M3 0C9 -0.5 12 0.5 15 0C19 -1 21 3 24.5 2C29 0 31 -6 28 -10C25.5 -14 21 -11 17.5 -12.5C14 -14 11 -12 8 -13" stroke="#8fc3d8" stroke-width="0.6" fill="none"/><rect x="2.5" y="-1" width="8.5" height="2" rx="1" fill="#9ccadd"/><ellipse cx="0" cy="0" rx="3.4" ry="2.1" fill="#9a5fb2"/></g><g transform="translate(1878.1 1800.7) rotate(-72)"><path d="M3 0C9 -0.5 12 0.5 15 0C19 -1 21 3 24.5 2C29 0 31 -6 28 -10C25.5 -14 21 -11 17.5 -12.5C14 -14 11 -12 8 -13" stroke="#8fc3d8" stroke-width="0.6" fill="none"/><rect x="2.5" y="-1" width="8.5" height="2" rx="1" fill="#9ccadd"/><ellipse cx="0" cy="0" rx="3.4" ry="2.1" fill="#9a5fb2"/></g><g transform="translate(1861.6 1814.0) rotate(118)"><path d="M3 0C9 -0.5 12 0.5 15 0C19 -1 21 3 24.5 2C29 0 31 -6 28 -10C25.5 -14 21 -11 17.5 -12.5C14 -14 11 -12 8 -13" stroke="#8fc3d8" stroke-width="0.6" fill="none"/><rect x="2.5" y="-1" width="8.5" height="2" rx="1" fill="#9ccadd"/><ellipse cx="0" cy="0" rx="3.4" ry="2.1" fill="#9a5fb2"/></g><g transform="translate(1923.3 1836.1) rotate(52)"><path d="M3 0C9 -0.5 12 0.5 15 0C19 -1 21 3 24.5 2C29 0 31 -6 28 -10C25.5 -14 21 -11 17.5 -12.5C14 -14 11 -12 8 -13" stroke="#8fc3d8" stroke-width="0.6" fill="none"/><rect x="2.5" y="-1" width="8.5" height="2" rx="1" fill="#9ccadd"/><ellipse cx="0" cy="0" rx="3.4" ry="2.1" fill="#9a5fb2"/></g><g transform="translate(1959.8 1827.3) rotate(-125)"><path d="M3 0C9 -0.5 12 0.5 15 0C19 -1 21 3 24.5 2C29 0 31 -6 28 -10C25.5 -14 21 -11 17.5 -12.5C14 -14 11 -12 8 -13" stroke="#8fc3d8" stroke-width="0.6" fill="none"/><rect x="2.5" y="-1" width="8.5" height="2" rx="1" fill="#9ccadd"/><ellipse cx="0" cy="0" rx="3.4" ry="2.1" fill="#9a5fb2"/></g><g transform="translate(1890.6 1853.6) rotate(130)"><path d="M3 0C9 -0.5 12 0.5 15 0C19 -1 21 3 24.5 2C29 0 31 -6 28 -10C25.5 -14 21 -11 17.5 -12.5C14 -14 11 -12 8 -13" stroke="#8fc3d8" stroke-width="0.6" fill="none"/><rect x="2.5" y="-1" width="8.5" height="2" rx="1" fill="#9ccadd"/><ellipse cx="0" cy="0" rx="3.4" ry="2.1" fill="#9a5fb2"/></g><g transform="translate(1912.5 1876.2) rotate(-22)"><path d="M3 0C9 -0.5 12 0.5 15 0C19 -1 21 3 24.5 2C29 0 31 -6 28 -10C25.5 -14 21 -11 17.5 -12.5C14 -14 11 -12 8 -13" stroke="#8fc3d8" stroke-width="0.6" fill="none"/><rect x="2.5" y="-1" width="8.5" height="2" rx="1" fill="#9ccadd"/><ellipse cx="0" cy="0" rx="3.4" ry="2.1" fill="#9a5fb2"/></g></g><text class="d" font-weight="bold" font-size="18" x="1905.5" y="1978" text-anchor="middle" textLength="29" lengthAdjust="spacingAndGlyphs">IVF</text>
<path d="M1995.0 1928.9H2018.0V1922.9L2056.7 1932.4L2018.0 1941.9V1935.9H1995.0Z" fill="#1c1c1c"/>
<path d="M2076.3 1929.5V1949.5A67.6 7.5 0 0 0 2211.5 1949.5V1929.5A67.6 7.5 0 0 0 2076.3 1929.5Z" fill="#e4f0f6" stroke="#93acba" stroke-width="0.8"/><path d="M2077.1 1937.9A67.6 7.5 0 0 0 2210.7 1937.9V1949.5A67.6 7.5 0 0 1 2077.1 1949.5Z" fill="#c6e5f3"/><path d="M2077.1 1937.9A67.6 7.5 0 0 0 2210.7 1937.9" fill="none" stroke="#7cc3dc" stroke-width="1"/><path d="M2077.1 1942.9A67.6 7.5 0 0 0 2210.7 1942.9" fill="none" stroke="#a9d8ea" stroke-width="0.8"/><ellipse cx="2143.9" cy="1929.5" rx="67.6" ry="7.5" fill="#f1f6f9" stroke="#9eb3bf" stroke-width="0.9"/><ellipse cx="2143.9" cy="1930.5" rx="64.6" ry="5.9" fill="#eaf2f7" stroke="#b9c8d1" stroke-width="0.6"/><path d="M2092 1874L2195 1874L2142.7 1943.2Z" fill="#b7cfe6" opacity="0.92"/><circle cx="2143.5" cy="1828.2" r="69" fill="#eef4fc" stroke="#3d68aa" stroke-width="1.4"/><circle cx="2143.1" cy="1781.6" r="12.6" fill="#eef6fb" stroke="#5fb7d8" stroke-width="1.8"/><circle cx="2138.6" cy="1781.6" r="5.6" fill="#f4a9b8" stroke="#ee98aa" stroke-width="0.4"/><circle cx="2147.6" cy="1781.6" r="5.6" fill="#f4a9b8" stroke="#ee98aa" stroke-width="0.4"/><circle cx="2143.1" cy="1776.6" r="5.6" fill="#f4a9b8" stroke="#ee98aa" stroke-width="0.4"/><circle cx="2143.1" cy="1786.6" r="5.6" fill="#f4a9b8" stroke="#ee98aa" stroke-width="0.4"/><circle cx="2193.2" cy="1818.8" r="12.6" fill="#eef6fb" stroke="#5fb7d8" stroke-width="1.8"/><circle cx="2193.2" cy="1818.8" r="10.6" fill="#ee8fa2"/><polygon points="2198.2,1818.8 2198.9,1821.6 2196.3,1822.7 2194.6,1825.1 2192.1,1823.7 2189.2,1823.8 2188.7,1821.0 2186.8,1818.8 2188.7,1816.7 2189.2,1813.8 2192.1,1813.9 2194.6,1812.6 2196.3,1814.9 2198.9,1816.0" fill="#f8c4ae"/><circle cx="2159.0" cy="1870.5" r="12.4" fill="#e6eff5" stroke="#ec6f8c" stroke-width="2" stroke-dasharray="1.6 0.9"/><path d="M2147.6 1871.0C2154.0 1867.5 2164.0 1871.5 2170.4 1873.5A11.4 11.4 0 0 1 2147.6 1871.0Z" fill="#5fa6cf"/><circle cx="2119.2" cy="1869.9" r="12.6" fill="#eef6fb" stroke="#5fb7d8" stroke-width="1.8"/><circle cx="2119.8" cy="1869.9" r="10.4" fill="#f4a9b8"/><circle cx="2109.2" cy="1867.5" r="1.8" fill="#ee7f96"/><circle cx="2120.2" cy="1872.3" r="1.2" fill="#e58fa2"/><circle cx="2095.0" cy="1818.2" r="12.6" fill="#eef6fb" stroke="#5fb7d8" stroke-width="1.8"/><ellipse cx="2095.0" cy="1813.4" rx="10.3" ry="5.4" fill="#f4a9b8" transform="rotate(8 2095.0 1818.2)"/><ellipse cx="2095.0" cy="1823.0" rx="10.3" ry="5.4" fill="#f4a9b8" transform="rotate(8 2095.0 1818.2)"/><circle cx="2085.4" cy="1816.2" r="1.4" fill="#ee7f96"/><path d="M2101.1 1801.3Q2108.3 1788.6 2114.9 1786.0" stroke="#2b2b2b" stroke-width="2.6" fill="none" stroke-linecap="round"/><path d="M2124.6 1782.0L2112.9 1781.1L2116.8 1790.8Z" fill="#2b2b2b"/><path d="M2162.0 1782.6Q2175.9 1788.6 2179.7 1794.4" stroke="#2b2b2b" stroke-width="2.6" fill="none" stroke-linecap="round"/><path d="M2185.6 1803.1L2184.1 1791.5L2175.4 1797.3Z" fill="#2b2b2b"/><path d="M2191.6 1836.3Q2189.2 1852.6 2184.3 1857.1" stroke="#2b2b2b" stroke-width="2.6" fill="none" stroke-linecap="round"/><path d="M2176.5 1864.1L2187.8 1860.9L2180.8 1853.2Z" fill="#2b2b2b"/><path d="M2104.1 1859.9Q2098.6 1851.4 2097.9 1849.9" stroke="#2b2b2b" stroke-width="2.6" fill="none" stroke-linecap="round"/><path d="M2093.2 1840.6L2093.2 1852.3L2102.6 1847.6Z" fill="#2b2b2b"/><text class="d" font-weight="bold" font-size="18" x="2146.3" y="1978" text-anchor="middle" textLength="30.2" lengthAdjust="spacingAndGlyphs">IVC</text><text class="d" font-size="18.5" x="2143.5" y="1999" text-anchor="middle" textLength="258" lengthAdjust="spacingAndGlyphs">(cleavage and blastocyst rate,</text><text class="d" font-size="18.5" x="2146.5" y="2019.2" text-anchor="middle" textLength="133.7" lengthAdjust="spacingAndGlyphs">embryo quality)</text>
<circle cx="1878.7" cy="2071.2" r="21.5" fill="#fff" stroke="#6ec5e5" stroke-width="3"/><circle cx="1878.2" cy="2071.2" r="18.3" fill="#e7a6a7" stroke="#d98088" stroke-width="0.6"/><circle cx="1897.3" cy="2071.2" r="1.3" fill="#ee8f9a"/>
<circle cx="1931.0" cy="2071.2" r="21.5" fill="#fff" stroke="#6ec5e5" stroke-width="3"/><circle cx="1930.5" cy="2071.2" r="18.3" fill="#e7a6a7" stroke="#d98088" stroke-width="0.6"/><circle cx="1949.6" cy="2071.2" r="1.3" fill="#ee8f9a"/>
<circle cx="1906.5" cy="2117.0" r="21.5" fill="#fff" stroke="#6ec5e5" stroke-width="3"/><circle cx="1906.0" cy="2117.0" r="18.3" fill="#e7a6a7" stroke="#d98088" stroke-width="0.6"/><circle cx="1925.1" cy="2117.0" r="1.3" fill="#ee8f9a"/>
<circle cx="1873.8" cy="2187.0" r="25.0" fill="#ef8ba0"/><circle cx="1901.0" cy="2187.0" r="3.5" fill="#ef8ba0"/><circle cx="1898.8" cy="2192.3" r="3.5" fill="#ef8ba0"/><circle cx="1897.2" cy="2197.4" r="3.5" fill="#ef8ba0"/><circle cx="1895.8" cy="2203.0" r="3.5" fill="#ef8ba0"/><circle cx="1890.9" cy="2206.0" r="3.5" fill="#ef8ba0"/><circle cx="1886.6" cy="2209.2" r="3.5" fill="#ef8ba0"/><circle cx="1882.2" cy="2212.9" r="3.5" fill="#ef8ba0"/><circle cx="1876.5" cy="2212.5" r="3.5" fill="#ef8ba0"/><circle cx="1871.1" cy="2212.5" r="3.5" fill="#ef8ba0"/><circle cx="1865.4" cy="2212.9" r="3.5" fill="#ef8ba0"/><circle cx="1861.0" cy="2209.2" r="3.5" fill="#ef8ba0"/><circle cx="1856.7" cy="2206.0" r="3.5" fill="#ef8ba0"/><circle cx="1851.8" cy="2203.0" r="3.5" fill="#ef8ba0"/><circle cx="1850.4" cy="2197.4" r="3.5" fill="#ef8ba0"/><circle cx="1848.8" cy="2192.3" r="3.5" fill="#ef8ba0"/><circle cx="1846.6" cy="2187.0" r="3.5" fill="#ef8ba0"/><circle cx="1848.8" cy="2181.7" r="3.5" fill="#ef8ba0"/><circle cx="1850.4" cy="2176.6" r="3.5" fill="#ef8ba0"/><circle cx="1851.8" cy="2171.0" r="3.5" fill="#ef8ba0"/><circle cx="1856.7" cy="2168.0" r="3.5" fill="#ef8ba0"/><circle cx="1861.0" cy="2164.8" r="3.5" fill="#ef8ba0"/><circle cx="1865.4" cy="2161.1" r="3.5" fill="#ef8ba0"/><circle cx="1871.1" cy="2161.5" r="3.5" fill="#ef8ba0"/><circle cx="1876.5" cy="2161.5" r="3.5" fill="#ef8ba0"/><circle cx="1882.2" cy="2161.1" r="3.5" fill="#ef8ba0"/><circle cx="1886.6" cy="2164.8" r="3.5" fill="#ef8ba0"/><circle cx="1890.9" cy="2168.0" r="3.5" fill="#ef8ba0"/><circle cx="1895.8" cy="2171.0" r="3.5" fill="#ef8ba0"/><circle cx="1897.2" cy="2176.6" r="3.5" fill="#ef8ba0"/><circle cx="1898.8" cy="2181.7" r="3.5" fill="#ef8ba0"/><circle cx="1873.8" cy="2187.0" r="16.2" fill="#fff"/>
<circle cx="1934.0" cy="2187.0" r="25.0" fill="#ef8ba0"/><circle cx="1961.2" cy="2187.0" r="3.5" fill="#ef8ba0"/><circle cx="1959.0" cy="2192.3" r="3.5" fill="#ef8ba0"/><circle cx="1957.4" cy="2197.4" r="3.5" fill="#ef8ba0"/><circle cx="1956.0" cy="2203.0" r="3.5" fill="#ef8ba0"/><circle cx="1951.1" cy="2206.0" r="3.5" fill="#ef8ba0"/><circle cx="1946.8" cy="2209.2" r="3.5" fill="#ef8ba0"/><circle cx="1942.4" cy="2212.9" r="3.5" fill="#ef8ba0"/><circle cx="1936.7" cy="2212.5" r="3.5" fill="#ef8ba0"/><circle cx="1931.3" cy="2212.5" r="3.5" fill="#ef8ba0"/><circle cx="1925.6" cy="2212.9" r="3.5" fill="#ef8ba0"/><circle cx="1921.2" cy="2209.2" r="3.5" fill="#ef8ba0"/><circle cx="1916.9" cy="2206.0" r="3.5" fill="#ef8ba0"/><circle cx="1912.0" cy="2203.0" r="3.5" fill="#ef8ba0"/><circle cx="1910.6" cy="2197.4" r="3.5" fill="#ef8ba0"/><circle cx="1909.0" cy="2192.3" r="3.5" fill="#ef8ba0"/><circle cx="1906.8" cy="2187.0" r="3.5" fill="#ef8ba0"/><circle cx="1909.0" cy="2181.7" r="3.5" fill="#ef8ba0"/><circle cx="1910.6" cy="2176.6" r="3.5" fill="#ef8ba0"/><circle cx="1912.0" cy="2171.0" r="3.5" fill="#ef8ba0"/><circle cx="1916.9" cy="2168.0" r="3.5" fill="#ef8ba0"/><circle cx="1921.2" cy="2164.8" r="3.5" fill="#ef8ba0"/><circle cx="1925.6" cy="2161.1" r="3.5" fill="#ef8ba0"/><circle cx="1931.3" cy="2161.5" r="3.5" fill="#ef8ba0"/><circle cx="1936.7" cy="2161.5" r="3.5" fill="#ef8ba0"/><circle cx="1942.4" cy="2161.1" r="3.5" fill="#ef8ba0"/><circle cx="1946.8" cy="2164.8" r="3.5" fill="#ef8ba0"/><circle cx="1951.1" cy="2168.0" r="3.5" fill="#ef8ba0"/><circle cx="1956.0" cy="2171.0" r="3.5" fill="#ef8ba0"/><circle cx="1957.4" cy="2176.6" r="3.5" fill="#ef8ba0"/><circle cx="1959.0" cy="2181.7" r="3.5" fill="#ef8ba0"/><circle cx="1934.0" cy="2187.0" r="16.2" fill="#fff"/>
<circle cx="1901.3" cy="2243.2" r="25.0" fill="#ef8ba0"/><circle cx="1928.5" cy="2243.2" r="3.5" fill="#ef8ba0"/><circle cx="1926.3" cy="2248.5" r="3.5" fill="#ef8ba0"/><circle cx="1924.7" cy="2253.6" r="3.5" fill="#ef8ba0"/><circle cx="1923.3" cy="2259.2" r="3.5" fill="#ef8ba0"/><circle cx="1918.4" cy="2262.2" r="3.5" fill="#ef8ba0"/><circle cx="1914.1" cy="2265.4" r="3.5" fill="#ef8ba0"/><circle cx="1909.7" cy="2269.1" r="3.5" fill="#ef8ba0"/><circle cx="1904.0" cy="2268.7" r="3.5" fill="#ef8ba0"/><circle cx="1898.6" cy="2268.7" r="3.5" fill="#ef8ba0"/><circle cx="1892.9" cy="2269.1" r="3.5" fill="#ef8ba0"/><circle cx="1888.5" cy="2265.4" r="3.5" fill="#ef8ba0"/><circle cx="1884.2" cy="2262.2" r="3.5" fill="#ef8ba0"/><circle cx="1879.3" cy="2259.2" r="3.5" fill="#ef8ba0"/><circle cx="1877.9" cy="2253.6" r="3.5" fill="#ef8ba0"/><circle cx="1876.3" cy="2248.5" r="3.5" fill="#ef8ba0"/><circle cx="1874.1" cy="2243.2" r="3.5" fill="#ef8ba0"/><circle cx="1876.3" cy="2237.9" r="3.5" fill="#ef8ba0"/><circle cx="1877.9" cy="2232.8" r="3.5" fill="#ef8ba0"/><circle cx="1879.3" cy="2227.2" r="3.5" fill="#ef8ba0"/><circle cx="1884.2" cy="2224.2" r="3.5" fill="#ef8ba0"/><circle cx="1888.5" cy="2221.0" r="3.5" fill="#ef8ba0"/><circle cx="1892.9" cy="2217.3" r="3.5" fill="#ef8ba0"/><circle cx="1898.6" cy="2217.7" r="3.5" fill="#ef8ba0"/><circle cx="1904.0" cy="2217.7" r="3.5" fill="#ef8ba0"/><circle cx="1909.7" cy="2217.3" r="3.5" fill="#ef8ba0"/><circle cx="1914.1" cy="2221.0" r="3.5" fill="#ef8ba0"/><circle cx="1918.4" cy="2224.2" r="3.5" fill="#ef8ba0"/><circle cx="1923.3" cy="2227.2" r="3.5" fill="#ef8ba0"/><circle cx="1924.7" cy="2232.8" r="3.5" fill="#ef8ba0"/><circle cx="1926.3" cy="2237.9" r="3.5" fill="#ef8ba0"/><circle cx="1901.3" cy="2243.2" r="16.2" fill="#fff"/>
<path d="M2012.4 2095H2036V2237H2012.4M2036 2166.3H2056.9" stroke="#2e2e2e" stroke-width="3.7" fill="none" stroke-linejoin="miter"/>
<path d="M2168 2098.5L2201 2124Q2205.4 2127.8 2205.6 2134L2205.8 2218Q2205.6 2223.5 2200 2226L2174 2235.5L2150 2200Z" fill="#d3d1cd" stroke="#c2c0bb" stroke-width="0.6"/><path d="M2177.5 2120L2205.4 2140" stroke="#bdbbb6" stroke-width="0.7"/><path d="M2091.7 2113Q2092.5 2105.5 2100 2104L2157.5 2095.2Q2166 2094.5 2171 2099Q2177 2104 2177 2112L2174.5 2228Q2174 2235.5 2166 2235.3L2114 2231.6Q2107 2231 2103.5 2226L2088.5 2208Q2083 2201 2083.8 2192Z" fill="#f2f0ec" stroke="#d6d3ce" stroke-width="0.7"/><path d="M2099 2210L2135 2212L2150 2233L2114 2231.6Q2107 2231 2105 2226Z" fill="#e6e4e0"/><path d="M2135 2212L2165 2205L2174.5 2228Q2174 2235.5 2166 2235.3L2150 2233Z" fill="#d9d7d3"/><path d="M2094.2 2112Q2095 2104.6 2102.5 2103.4L2154 2097.2Q2164.5 2096.6 2164.2 2107L2161.6 2192Q2161 2203 2150 2202.6L2096 2199.6Q2084.5 2198.6 2085.4 2188Z" fill="#46464f" stroke="#221c74" stroke-width="1.6"/><path d="M2142.5 2099L2136.5 2201.6" stroke="#55555f" stroke-width="0.7"/><path d="M2160 2104L2090 2194L2086 2186L2094.5 2112Q2095 2105 2102.5 2103.6L2154 2097.4Z" fill="#4d4c56" opacity="0.7"/><path d="M2100.9 2123.2L2131.8 2121.6L2130.4 2149.5L2099.1 2149.9Z" fill="#3548c9" stroke="#6a6f86" stroke-width="0.5"/><text class="d" font-weight="bold" font-size="18.6" x="2140.7" y="2252.6" text-anchor="middle" textLength="82.4" lengthAdjust="spacingAndGlyphs">RT-qPCR</text>
<text class="d" font-size="18.6" font-style="italic" x="1962.6" y="2273.7" textLength="353" lengthAdjust="spacingAndGlyphs"><tspan font-weight="bold" font-style="normal">(</tspan>CXCL8, TNFa IL6, NFkB2, TLR2, TLR4,</text><text class="d" font-size="18.6" font-style="italic" x="2141" y="2294.2" text-anchor="middle" textLength="316" lengthAdjust="spacingAndGlyphs">STAR, HSD3B, BAX, BCL2, TMSB4,</text><text class="d" font-size="18.6" font-style="italic" x="2141" y="2314.6" text-anchor="middle" textLength="357" lengthAdjust="spacingAndGlyphs">TMSB10, FSHR, GATM, HAS2, POU5F1,</text><text class="d" font-size="18.6" font-style="italic" x="2062.5" y="2334.8" textLength="155.5" lengthAdjust="spacingAndGlyphs">SOX2 <tspan font-style="normal">and</tspan> AREG)</text>
<path d="M1888.7 2384V2446L1901.3 2463.4L1914 2446V2384Z" fill="#f4f4f4" stroke="#b3b3b3" stroke-width="0.9"/><path d="M1889.6 2417.5Q1901 2415 1913.1 2417.5V2445.6L1901.3 2461.8L1889.6 2445.6Z" fill="#e9272e"/><path d="M1889.6 2417.5V2445.6L1893 2450V2417Z" fill="#f26a6e"/><path d="M1896 2391.0H1903M1893 2395.6H1903M1896 2400.2H1903M1893 2404.8H1903M1896 2409.4H1903M1893 2414.0H1903M1896 2418.6H1903M1893 2423.2H1903M1896 2427.8H1903M1893 2432.4H1903M1896 2437.0H1903M1893 2441.6H1903" stroke="#9a9a9a" stroke-width="0.5"/><rect x="1885.5" y="2366" width="31.3" height="20.5" rx="3.5" fill="#e98a3d" stroke="#c96c22" stroke-width="0.9"/><path d="M1886 2381.5H1916.3" stroke="#c96c22" stroke-width="0.8"/><text class="d" font-weight="bold" font-size="18" x="1905" y="2488.3" text-anchor="middle" textLength="95.3" lengthAdjust="spacingAndGlyphs">IVM media</text>
<path d="M1995.2 2414.2H2017.9V2408.4L2057.1 2417.7L2017.9 2426.9V2421.2H1995.2Z" fill="#1c1c1c"/>
<path d="M2066.2 2438.5L2113.8 2448.2L2222.0 2420.1L2221.4 2425.5Q2221.0 2430.9 2215.5 2435.2L2119.2 2466.6Q2113.8 2468.1 2108.4 2466.0L2072.7 2453.6Q2067.7 2451.5 2066.6 2446.1Z" fill="#747474" stroke="#5e5e5e" stroke-width="0.6"/><path d="M2065.1 2394.1Q2065.1 2389.4 2069.9 2388.1L2082.4 2383.3L2184.2 2365.5Q2188.5 2365.1 2191.7 2367.7L2219.9 2389.4Q2222.3 2391.5 2222.3 2395.2L2222.0 2423.3L2114.9 2452.6L2066.2 2441.3Z" fill="#f1f1ef" stroke="#c9c9c9" stroke-width="0.7"/><path d="M2066.2 2404.9L2114.9 2414.7L2114.9 2452.6L2066.2 2441.3Z" fill="#f7f7f5"/><path d="M2114.9 2414.7L2222.0 2390.9L2222.0 2423.3L2114.9 2452.6Z" fill="#e6e6e4"/><path d="M2066.2 2433.5L2114.9 2441.7L2222.0 2412.5" stroke="#c4c4c4" stroke-width="0.7" fill="none"/><path d="M2086.8 2384.4L2183.1 2367.7Q2187.4 2367.3 2190.6 2370.3L2213.4 2391.5L2119.2 2412.5Q2106.2 2413.6 2096.5 2402.8Z" fill="#4c9bc7" stroke="#e9eef1" stroke-width="1.5"/><path d="M2177.7 2369.2L2184.2 2368.1Q2187.4 2367.7 2190.2 2370.3L2212.7 2391.3L2158.2 2403.6Q2171.2 2389.8 2177.7 2369.2Z" fill="#9dc9e0"/><path d="M2102.3 2390.2L2146.9 2385.9L2153.9 2396.7L2117.5 2404.5Z" fill="#e9e9e9" stroke="#bdbdbd" stroke-width="0.6"/><path d="M2113.2 2396.7L2143.0 2391.9L2145.6 2395.4L2117.1 2401.0Z" fill="#d2d2d2"/><path d="M2103.6 2359.9L2141.3 2354.3L2149.1 2390.2L2113.2 2395.4Z" fill="#ececec" stroke="#b4b4b4" stroke-width="0.7"/><path d="M2108.4 2362.1L2139.1 2357.7L2145.6 2388.1L2115.3 2392.4Z" fill="#4b4b4b"/><path d="M2130.0 2359.0L2139.1 2357.7L2143.0 2376.8L2125.3 2391.1Z" fill="#5a5a5a"/><path d="M2178.7 2423.3L2196.1 2419.0L2196.1 2428.7L2178.7 2433.5Z" fill="#ededeb" stroke="#bfbfbf" stroke-width="0.6"/><path d="M2163.6 2418.4L2166.8 2415.8L2182.0 2412.5L2185.2 2413.6" stroke="#bdbdbd" stroke-width="0.8" fill="#e2e2e0"/><path d="M2177.7 2435.2V2448.2M2195.0 2430.5V2442.6" stroke="#5e5e5e" stroke-width="0.6"/><path d="M2129.6 2455.2L2137.0 2453.0L2137.0 2456.9L2129.6 2459.0Z" fill="#555" stroke="#ccc" stroke-width="0.4"/><text class="d" font-size="18.6" x="2090" y="2489.6" textLength="108.4" lengthAdjust="spacingAndGlyphs"><tspan font-weight="bold">RIA</tspan> (E2, P4)</text>
</svg>
</body></html>
